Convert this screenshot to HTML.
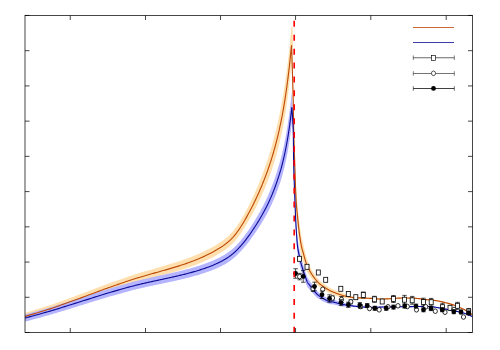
<!DOCTYPE html><html><head><meta charset="utf-8"><style>html,body{margin:0;padding:0;background:#fff;font-family:"Liberation Sans",sans-serif}svg{display:block}</style></head><body><svg width="500" height="350" viewBox="0 0 500 350"><rect width="500" height="350" fill="#fff"/><defs><clipPath id="c"><rect x="25.00" y="15.50" width="447.50" height="317.00"/></clipPath></defs><g clip-path="url(#c)"><path d="M25.00 312.88 L26.21 312.51 L27.72 312.05 L29.49 311.52 L31.48 310.92 L33.64 310.26 L35.94 309.56 L38.32 308.84 L40.74 308.09 L43.16 307.33 L45.54 306.58 L47.84 305.84 L50.00 305.13 L52.08 304.42 L54.17 303.71 L56.25 302.98 L58.33 302.24 L60.42 301.50 L62.50 300.75 L64.58 299.99 L66.67 299.22 L68.75 298.46 L70.83 297.69 L72.92 296.92 L75.00 296.16 L77.13 295.37 L79.34 294.55 L81.60 293.70 L83.89 292.84 L86.18 291.98 L88.44 291.13 L90.65 290.29 L92.78 289.48 L94.80 288.72 L96.70 288.00 L98.44 287.34 L100.00 286.76 L101.33 286.26 L102.42 285.85 L103.32 285.51 L104.07 285.23 L104.72 284.98 L105.31 284.76 L105.88 284.55 L106.48 284.33 L107.15 284.08 L107.93 283.80 L108.86 283.47 L110.00 283.06 L111.35 282.58 L112.87 282.04 L114.53 281.46 L116.30 280.83 L118.13 280.19 L120.00 279.53 L121.87 278.88 L123.70 278.24 L125.47 277.63 L127.13 277.05 L128.65 276.53 L130.00 276.07 L131.18 275.67 L132.25 275.31 L133.20 275.00 L134.07 274.71 L134.88 274.45 L135.62 274.22 L136.34 273.99 L137.04 273.78 L137.73 273.57 L138.45 273.35 L139.20 273.12 L140.00 272.87 L140.83 272.62 L141.67 272.37 L142.50 272.11 L143.33 271.87 L144.17 271.62 L145.00 271.37 L145.83 271.13 L146.67 270.88 L147.50 270.64 L148.33 270.40 L149.17 270.16 L150.00 269.92 L150.83 269.67 L151.67 269.44 L152.50 269.20 L153.33 268.96 L154.17 268.72 L155.00 268.49 L155.83 268.25 L156.67 268.02 L157.50 267.78 L158.33 267.54 L159.17 267.30 L160.00 267.05 L160.83 266.81 L161.67 266.57 L162.50 266.33 L163.33 266.09 L164.17 265.84 L165.00 265.60 L165.83 265.36 L166.67 265.11 L167.50 264.86 L168.33 264.62 L169.17 264.36 L170.00 264.11 L170.83 263.86 L171.67 263.60 L172.50 263.34 L173.33 263.09 L174.17 262.83 L175.00 262.56 L175.83 262.30 L176.67 262.03 L177.50 261.77 L178.33 261.49 L179.17 261.22 L180.00 260.94 L180.83 260.66 L181.67 260.38 L182.50 260.09 L183.33 259.81 L184.17 259.52 L185.00 259.22 L185.83 258.93 L186.67 258.63 L187.50 258.32 L188.33 258.02 L189.17 257.70 L190.00 257.39 L190.83 257.07 L191.67 256.74 L192.50 256.42 L193.33 256.09 L194.17 255.76 L195.00 255.42 L195.83 255.08 L196.67 254.73 L197.50 254.38 L198.33 254.02 L199.17 253.66 L200.00 253.29 L200.85 252.90 L201.72 252.50 L202.62 252.08 L203.52 251.65 L204.42 251.21 L205.31 250.77 L206.19 250.34 L207.04 249.92 L207.85 249.51 L208.62 249.13 L209.34 248.76 L210.00 248.43 L210.59 248.12 L211.12 247.84 L211.60 247.59 L212.04 247.35 L212.44 247.13 L212.81 246.92 L213.17 246.71 L213.52 246.51 L213.87 246.30 L214.22 246.09 L214.60 245.87 L215.00 245.63 L215.42 245.38 L215.83 245.13 L216.25 244.88 L216.67 244.63 L217.08 244.38 L217.50 244.12 L217.92 243.86 L218.33 243.60 L218.75 243.33 L219.17 243.07 L219.58 242.80 L220.00 242.52 L220.42 242.24 L220.83 241.96 L221.25 241.68 L221.67 241.39 L222.08 241.10 L222.50 240.80 L222.92 240.50 L223.33 240.20 L223.75 239.89 L224.17 239.58 L224.58 239.25 L225.00 238.92 L225.42 238.59 L225.83 238.25 L226.25 237.91 L226.67 237.56 L227.08 237.21 L227.50 236.85 L227.92 236.48 L228.33 236.11 L228.75 235.73 L229.17 235.33 L229.58 234.93 L230.00 234.51 L230.42 234.09 L230.83 233.66 L231.25 233.22 L231.67 232.77 L232.08 232.32 L232.50 231.85 L232.92 231.37 L233.33 230.89 L233.75 230.39 L234.17 229.88 L234.58 229.36 L235.00 228.82 L235.42 228.28 L235.83 227.72 L236.25 227.14 L236.67 226.56 L237.08 225.97 L237.50 225.36 L237.92 224.75 L238.33 224.12 L238.75 223.49 L239.17 222.84 L239.58 222.19 L240.00 221.53 L240.42 220.86 L240.83 220.18 L241.25 219.48 L241.67 218.78 L242.08 218.07 L242.50 217.35 L242.92 216.62 L243.33 215.88 L243.75 215.14 L244.17 214.39 L244.58 213.63 L245.00 212.87 L245.42 212.10 L245.84 211.32 L246.26 210.53 L246.68 209.73 L247.10 208.93 L247.52 208.12 L247.94 207.30 L248.36 206.49 L248.77 205.67 L249.19 204.85 L249.59 204.01 L250.00 203.18 L250.40 202.36 L250.79 201.55 L251.18 200.74 L251.57 199.94 L251.95 199.13 L252.34 198.32 L252.72 197.50 L253.10 196.67 L253.49 195.83 L253.88 194.97 L254.28 194.10 L254.68 193.20 L255.09 192.28 L255.50 191.34 L255.92 190.39 L256.34 189.43 L256.76 188.45 L257.19 187.46 L257.61 186.46 L258.04 185.45 L258.47 184.43 L258.90 183.39 L259.32 182.35 L259.75 181.29 L260.18 180.22 L260.61 179.14 L261.04 178.04 L261.47 176.92 L261.90 175.80 L262.33 174.66 L262.77 173.52 L263.19 172.37 L263.62 171.22 L264.04 170.07 L264.46 168.91 L264.87 167.76 L265.28 166.60 L265.69 165.41 L266.10 164.21 L266.52 162.99 L266.92 161.77 L267.33 160.56 L267.72 159.35 L268.11 158.16 L268.49 156.99 L268.85 155.86 L269.21 154.75 L269.54 153.69 L269.85 152.69 L270.15 151.74 L270.43 150.83 L270.69 149.96 L270.94 149.12 L271.19 148.28 L271.43 147.45 L271.67 146.60 L271.91 145.73 L272.16 144.82 L272.43 143.88 L272.70 142.87 L272.99 141.81 L273.29 140.70 L273.59 139.56 L273.90 138.38 L274.21 137.19 L274.53 135.98 L274.84 134.76 L275.15 133.55 L275.46 132.34 L275.75 131.15 L276.04 129.98 L276.32 128.84 L276.59 127.74 L276.84 126.66 L277.09 125.61 L277.33 124.57 L277.57 123.54 L277.80 122.51 L278.03 121.47 L278.26 120.42 L278.49 119.34 L278.73 118.24 L278.96 117.10 L279.21 115.91 L279.46 114.68 L279.72 113.40 L279.98 112.10 L280.24 110.76 L280.51 109.40 L280.77 108.03 L281.04 106.64 L281.30 105.25 L281.56 103.86 L281.81 102.48 L282.06 101.10 L282.30 99.75 L282.53 98.41 L282.76 97.08 L282.98 95.76 L283.20 94.44 L283.42 93.12 L283.63 91.80 L283.84 90.47 L284.05 89.13 L284.26 87.77 L284.46 86.40 L284.67 85.00 L284.88 83.58 L285.09 82.13 L285.30 80.67 L285.51 79.18 L285.72 77.68 L285.92 76.16 L286.13 74.67 L286.33 73.19 L286.54 71.71 L286.74 70.23 L286.94 68.73 L287.14 67.24 L287.33 65.74 L287.52 64.24 L287.71 62.73 L287.90 61.22 L288.08 59.70 L288.27 58.18 L288.45 56.65 L288.63 55.11 L288.81 53.56 L288.98 52.00 L289.16 50.42 L289.34 48.84 L289.51 47.24 L289.69 45.56 L289.88 43.76 L290.07 41.87 L290.26 39.93 L290.45 37.98 L290.64 36.06 L290.82 34.21 L290.99 32.45 L291.15 30.84 L291.29 29.40 L291.40 28.17 L291.50 27.20 L291.60 28.70 L291.63 29.65 L291.66 30.76 L291.70 32.04 L291.74 33.46 L291.79 35.03 L291.84 36.74 L291.89 38.57 L291.95 40.53 L292.01 42.59 L292.07 44.77 L292.13 47.04 L292.20 49.40 L292.27 51.93 L292.35 54.69 L292.43 57.64 L292.52 60.75 L292.61 63.96 L292.71 67.26 L292.80 70.58 L292.89 73.91 L292.98 77.19 L293.06 80.32 L293.13 83.30 L293.20 86.13 L293.26 88.83 L293.31 91.44 L293.35 93.97 L293.38 96.44 L293.41 98.88 L293.44 101.30 L293.47 103.72 L293.51 106.15 L293.54 108.63 L293.59 111.16 L293.64 113.77 L293.70 116.47 L293.77 119.25 L293.85 122.11 L293.93 125.02 L294.01 128.08 L294.11 131.24 L294.20 134.43 L294.30 137.64 L294.40 140.87 L294.50 144.10 L294.60 147.32 L294.70 150.52 L294.80 153.69 L294.90 156.90 L295.00 160.19 L295.10 163.54 L295.20 166.92 L295.30 170.30 L295.41 173.65 L295.51 176.94 L295.62 180.15 L295.74 183.24 L295.85 186.20 L295.97 188.98 L296.10 188.05 L296.23 190.34 L296.38 192.49 L296.53 194.52 L296.68 196.43 L296.84 198.24 L297.00 199.96 L297.16 201.60 L297.32 203.17 L297.47 204.68 L297.62 206.15 L297.77 207.58 L297.90 208.99 L298.02 210.33 L298.14 211.57 L298.24 212.71 L298.34 213.76 L298.44 214.74 L298.54 215.67 L298.63 216.59 L298.73 217.49 L298.84 218.40 L298.95 219.33 L299.07 220.31 L299.20 221.34 L299.34 222.43 L299.50 223.56 L299.66 224.73 L299.82 225.92 L299.99 227.11 L300.17 228.30 L300.35 229.47 L300.52 230.62 L300.70 231.72 L300.87 232.76 L301.04 233.82 L301.20 234.81 L301.35 235.70 L301.49 236.47 L301.62 237.17 L301.75 237.80 L301.88 238.38 L302.01 238.94 L302.14 239.51 L302.28 240.10 L302.44 240.72 L302.60 241.42 L302.79 242.20 L303.00 243.09 L303.23 244.08 L303.47 245.17 L303.73 246.32 L304.00 247.54 L304.29 248.79 L304.58 250.08 L304.88 251.38 L305.20 252.64 L305.51 253.85 L305.84 255.04 L306.17 256.17 L306.50 257.25 L306.84 258.28 L307.19 259.29 L307.54 260.28 L307.91 261.25 L308.28 262.20 L308.66 263.14 L309.04 264.06 L309.43 264.97 L309.82 265.87 L310.21 266.76 L310.60 267.63 L311.00 268.50 L311.40 269.36 L311.81 270.21 L312.23 270.90 L312.65 271.57 L313.07 272.22 L313.50 272.87 L313.93 273.50 L314.35 274.11 L314.77 274.70 L315.19 275.27 L315.60 275.83 L316.00 276.36 L316.38 276.86 L316.74 277.33 L317.09 277.77 L317.43 278.18 L317.76 278.58 L318.09 278.97 L318.44 279.34 L318.80 279.72 L319.18 280.11 L319.58 280.50 L320.02 280.92 L320.50 281.32 L321.03 281.75 L321.61 282.20 L322.22 282.67 L322.87 283.14 L323.54 283.62 L324.22 284.10 L324.90 284.57 L325.57 285.03 L326.23 285.47 L326.86 285.89 L327.45 286.28 L328.00 286.63 L328.49 286.95 L328.92 287.22 L329.31 287.47 L329.67 287.68 L330.01 287.89 L330.34 288.07 L330.69 288.26 L331.06 288.45 L331.46 288.64 L331.91 288.85 L332.42 289.07 L333.00 289.32 L333.66 289.59 L334.38 289.89 L335.15 290.20 L335.96 290.53 L336.81 290.86 L337.69 291.19 L338.58 291.53 L339.48 291.86 L340.38 292.17 L341.28 292.48 L342.15 292.78 L343.00 293.15 L343.83 293.50 L344.67 293.84 L345.50 294.17 L346.33 294.48 L347.17 294.79 L348.00 295.09 L348.83 295.37 L349.67 295.65 L350.50 295.92 L351.33 296.17 L352.17 296.39 L353.00 296.51 L353.83 296.61 L354.67 296.69 L355.50 296.76 L356.33 296.81 L357.17 296.86 L358.00 296.89 L358.83 296.92 L359.67 296.95 L360.50 296.98 L361.33 297.01 L362.17 297.05 L363.00 297.09 L363.83 297.14 L364.67 297.19 L365.50 297.24 L366.33 297.29 L367.17 297.33 L368.00 297.38 L368.83 297.43 L369.67 297.48 L370.50 297.53 L371.33 297.58 L372.17 297.63 L373.00 297.68 L373.80 297.73 L374.55 297.79 L375.27 297.85 L375.96 297.92 L376.66 297.99 L377.38 298.06 L378.12 298.12 L378.93 298.17 L379.80 298.21 L380.75 298.24 L381.82 298.26 L383.00 298.26 L384.33 298.23 L385.81 298.18 L387.41 298.12 L389.11 298.03 L390.88 297.94 L392.69 297.84 L394.51 297.74 L396.33 297.65 L398.12 297.56 L399.84 297.50 L401.48 297.44 L403.00 297.40 L404.45 297.39 L405.88 297.39 L407.29 297.41 L408.67 297.44 L410.01 297.48 L411.31 297.52 L412.57 297.58 L413.78 297.64 L414.93 297.70 L416.02 297.77 L417.05 297.84 L418.00 297.90 L418.85 297.97 L419.59 298.04 L420.24 298.11 L420.81 298.20 L421.33 298.28 L421.81 298.37 L422.28 298.46 L422.74 298.55 L423.23 298.64 L423.75 298.73 L424.34 298.82 L425.00 298.90 L425.73 298.98 L426.49 299.06 L427.29 299.13 L428.11 299.20 L428.95 299.27 L429.81 299.34 L430.68 299.41 L431.56 299.49 L432.43 299.58 L433.30 299.68 L434.16 299.78 L435.00 299.90 L435.83 300.03 L436.67 300.16 L437.50 300.31 L438.33 300.46 L439.17 300.61 L440.00 300.77 L440.83 300.95 L441.67 301.12 L442.50 301.31 L443.33 301.50 L444.17 301.70 L445.00 301.90 L445.83 302.11 L446.67 302.32 L447.50 302.54 L448.33 302.77 L449.17 303.00 L450.00 303.24 L450.83 303.49 L451.67 303.75 L452.50 304.02 L453.33 304.30 L454.17 304.59 L455.00 304.90 L455.84 305.22 L456.70 305.56 L457.56 305.91 L458.43 306.28 L459.29 306.65 L460.16 307.04 L461.01 307.43 L461.85 307.82 L462.68 308.22 L463.48 308.62 L464.25 309.01 L465.00 309.40 L465.74 309.80 L466.48 310.24 L467.23 310.69 L467.96 311.16 L468.68 311.62 L469.38 312.08 L470.03 312.53 L470.65 312.94 L471.21 313.33 L471.71 313.67 L472.15 313.97 L472.50 314.20 L472.50 315.40 L472.15 315.17 L471.71 314.87 L471.21 314.53 L470.65 314.14 L470.03 313.73 L469.38 313.28 L468.68 312.82 L467.96 312.36 L467.23 311.89 L466.48 311.44 L465.74 311.00 L465.00 310.60 L464.25 310.21 L463.48 309.82 L462.68 309.42 L461.85 309.02 L461.01 308.63 L460.16 308.24 L459.29 307.85 L458.43 307.48 L457.56 307.11 L456.70 306.76 L455.84 306.42 L455.00 306.10 L454.17 305.79 L453.33 305.50 L452.50 305.22 L451.67 304.95 L450.83 304.69 L450.00 304.44 L449.17 304.20 L448.33 303.97 L447.50 303.74 L446.67 303.52 L445.83 303.31 L445.00 303.10 L444.17 302.90 L443.33 302.70 L442.50 302.51 L441.67 302.32 L440.83 302.15 L440.00 301.98 L439.17 301.81 L438.33 301.66 L437.50 301.51 L436.67 301.36 L435.83 301.23 L435.00 301.10 L434.16 300.98 L433.30 300.88 L432.43 300.78 L431.56 300.69 L430.68 300.61 L429.81 300.54 L428.95 300.47 L428.11 300.40 L427.29 300.33 L426.49 300.26 L425.73 300.18 L425.00 300.10 L424.34 300.02 L423.75 299.93 L423.23 299.84 L422.74 299.75 L422.28 299.66 L421.81 299.57 L421.33 299.48 L420.81 299.40 L420.24 299.31 L419.59 299.24 L418.85 299.17 L418.00 299.10 L417.05 299.04 L416.02 298.97 L414.93 298.90 L413.78 298.84 L412.57 298.78 L411.31 298.73 L410.01 298.68 L408.67 298.64 L407.29 298.61 L405.88 298.59 L404.45 298.59 L403.00 298.60 L401.48 298.64 L399.84 298.70 L398.12 298.80 L396.33 298.91 L394.51 299.03 L392.69 299.16 L390.88 299.29 L389.11 299.41 L387.41 299.53 L385.81 299.62 L384.33 299.69 L383.00 299.74 L381.82 299.76 L380.75 299.76 L379.80 299.75 L378.93 299.72 L378.12 299.68 L377.38 299.63 L376.66 299.58 L375.96 299.52 L375.27 299.47 L374.55 299.41 L373.80 299.36 L373.00 299.32 L372.17 299.29 L371.33 299.26 L370.50 299.22 L369.67 299.19 L368.83 299.15 L368.00 299.12 L367.17 299.08 L366.33 299.05 L365.50 299.01 L364.67 298.98 L363.83 298.94 L363.00 298.91 L362.17 298.88 L361.33 298.86 L360.50 298.84 L359.67 298.82 L358.83 298.81 L358.00 298.79 L357.17 298.77 L356.33 298.74 L355.50 298.70 L354.67 298.65 L353.83 298.58 L353.00 298.49 L352.17 298.39 L351.33 298.37 L350.50 298.37 L349.67 298.35 L348.83 298.32 L348.00 298.29 L347.17 298.24 L346.33 298.18 L345.50 298.12 L344.67 298.04 L343.83 297.95 L343.00 297.85 L342.15 297.74 L341.28 297.51 L340.38 297.24 L339.48 296.96 L338.58 296.67 L337.69 296.37 L336.81 296.07 L335.96 295.77 L335.15 295.48 L334.38 295.20 L333.66 294.93 L333.00 294.68 L332.42 294.46 L331.91 294.26 L331.46 294.09 L331.06 293.92 L330.69 293.77 L330.34 293.61 L330.01 293.45 L329.67 293.28 L329.31 293.09 L328.92 292.88 L328.49 292.64 L328.00 292.37 L327.45 292.06 L326.86 291.72 L326.23 291.35 L325.57 290.97 L324.90 290.56 L324.22 290.15 L323.54 289.73 L322.87 289.30 L322.22 288.88 L321.61 288.47 L321.03 288.06 L320.50 287.68 L320.02 287.31 L319.58 287.00 L319.18 286.69 L318.80 286.39 L318.44 286.09 L318.09 285.78 L317.76 285.47 L317.43 285.15 L317.09 284.81 L316.74 284.45 L316.38 284.06 L316.00 283.64 L315.60 283.19 L315.19 282.73 L314.77 282.25 L314.35 281.75 L313.93 281.23 L313.50 280.69 L313.07 280.15 L312.65 279.58 L312.23 279.00 L311.81 278.41 L311.40 277.96 L311.00 277.50 L310.60 277.03 L310.21 276.55 L309.82 276.05 L309.43 275.55 L309.04 275.02 L308.66 274.48 L308.28 273.92 L307.91 273.34 L307.54 272.74 L307.19 272.10 L306.84 271.44 L306.50 270.75 L306.17 270.01 L305.84 269.20 L305.51 268.34 L305.20 267.44 L304.88 266.54 L304.58 265.67 L304.29 264.80 L304.00 263.95 L303.73 263.12 L303.47 262.33 L303.23 261.59 L303.00 260.91 L302.79 260.32 L302.60 259.81 L302.44 259.35 L302.28 258.94 L302.14 258.56 L302.01 258.18 L301.88 257.80 L301.75 257.39 L301.62 256.94 L301.49 256.44 L301.35 255.86 L301.20 255.19 L301.04 254.43 L300.87 253.57 L300.70 252.58 L300.52 251.53 L300.35 250.44 L300.17 249.32 L299.99 248.19 L299.82 247.05 L299.66 245.91 L299.50 244.79 L299.34 243.71 L299.20 242.66 L299.07 241.67 L298.95 240.73 L298.84 239.83 L298.73 238.96 L298.63 238.08 L298.54 237.20 L298.44 236.29 L298.34 235.35 L298.24 234.37 L298.14 233.34 L298.02 232.22 L297.90 231.01 L297.77 229.74 L297.62 228.46 L297.47 227.15 L297.32 225.79 L297.16 224.39 L297.00 222.92 L296.84 221.36 L296.68 219.72 L296.53 217.97 L296.38 216.10 L296.23 214.10 L296.10 211.95 L295.97 206.23 L295.85 203.87 L295.74 201.37 L295.62 198.74 L295.51 196.02 L295.41 193.23 L295.30 190.39 L295.20 187.52 L295.10 184.66 L295.00 181.82 L294.90 179.03 L294.80 176.31 L294.70 173.62 L294.60 170.90 L294.50 168.17 L294.40 165.43 L294.30 162.69 L294.20 159.94 L294.11 157.22 L294.01 154.51 L293.93 151.78 L293.85 148.98 L293.77 146.23 L293.70 143.53 L293.64 140.91 L293.59 138.38 L293.54 135.90 L293.51 133.48 L293.47 131.08 L293.44 128.70 L293.41 126.33 L293.38 123.93 L293.35 121.50 L293.31 119.03 L293.26 116.49 L293.20 113.87 L293.13 111.12 L293.06 108.24 L292.98 105.29 L292.89 102.35 L292.80 99.39 L292.71 96.43 L292.61 93.51 L292.52 90.66 L292.43 87.91 L292.35 85.30 L292.27 82.85 L292.20 80.60 L292.13 78.50 L292.07 76.49 L292.01 74.56 L291.95 72.73 L291.89 71.01 L291.84 69.39 L291.79 67.88 L291.74 66.50 L291.70 65.24 L291.66 64.12 L291.63 63.14 L291.60 62.30 L291.50 63.80 L291.40 64.72 L291.29 65.88 L291.15 67.24 L290.99 68.77 L290.82 70.43 L290.64 72.19 L290.45 74.00 L290.26 75.85 L290.07 77.68 L289.88 79.47 L289.69 81.17 L289.51 82.76 L289.34 84.27 L289.16 85.77 L288.98 87.26 L288.81 88.74 L288.63 90.21 L288.45 91.66 L288.27 93.11 L288.08 94.55 L287.90 95.99 L287.71 97.42 L287.52 98.84 L287.33 100.26 L287.14 101.68 L286.94 103.10 L286.74 104.51 L286.54 105.92 L286.33 107.32 L286.13 108.71 L285.92 110.06 L285.72 111.36 L285.51 112.65 L285.30 113.92 L285.09 115.18 L284.88 116.42 L284.67 117.64 L284.46 118.83 L284.26 120.01 L284.05 121.17 L283.84 122.31 L283.63 123.45 L283.42 124.58 L283.20 125.71 L282.98 126.84 L282.76 127.97 L282.53 129.11 L282.30 130.25 L282.06 131.42 L281.81 132.59 L281.56 133.78 L281.30 134.97 L281.04 136.16 L280.77 137.35 L280.51 138.52 L280.24 139.68 L279.98 140.83 L279.72 141.94 L279.46 143.03 L279.21 144.09 L278.96 145.11 L278.73 146.08 L278.49 147.03 L278.26 147.95 L278.03 148.85 L277.80 149.74 L277.57 150.62 L277.33 151.50 L277.09 152.39 L276.84 153.29 L276.59 154.21 L276.32 155.16 L276.04 156.14 L275.75 157.14 L275.46 158.16 L275.15 159.19 L274.84 160.23 L274.53 161.27 L274.21 162.30 L273.90 163.32 L273.59 164.32 L273.29 165.29 L272.99 166.23 L272.70 167.13 L272.43 167.98 L272.16 168.79 L271.91 169.55 L271.67 170.29 L271.43 171.01 L271.19 171.72 L270.94 172.43 L270.69 173.15 L270.43 173.88 L270.15 174.65 L269.85 175.45 L269.54 176.31 L269.21 177.21 L268.85 178.14 L268.49 179.11 L268.11 180.10 L267.72 181.11 L267.33 182.13 L266.92 183.16 L266.52 184.19 L266.10 185.22 L265.69 186.24 L265.28 187.25 L264.87 188.24 L264.46 189.21 L264.04 190.19 L263.62 191.17 L263.19 192.15 L262.77 193.12 L262.33 194.09 L261.90 195.05 L261.47 196.00 L261.04 196.95 L260.61 197.88 L260.18 198.80 L259.75 199.71 L259.32 200.60 L258.90 201.49 L258.47 202.37 L258.04 203.24 L257.61 204.10 L257.19 204.94 L256.76 205.78 L256.34 206.61 L255.92 207.43 L255.50 208.23 L255.09 209.02 L254.68 209.80 L254.28 210.57 L253.88 211.31 L253.49 212.04 L253.10 212.75 L252.72 213.46 L252.34 214.15 L251.95 214.84 L251.57 215.52 L251.18 216.20 L250.79 216.89 L250.40 217.58 L250.00 218.28 L249.59 218.98 L249.19 219.68 L248.77 220.40 L248.36 221.13 L247.94 221.85 L247.52 222.58 L247.10 223.29 L246.68 224.01 L246.26 224.72 L245.84 225.42 L245.42 226.11 L245.00 226.79 L244.58 227.46 L244.17 228.13 L243.75 228.80 L243.33 229.46 L242.92 230.11 L242.50 230.76 L242.08 231.40 L241.67 232.03 L241.25 232.66 L240.83 233.27 L240.42 233.88 L240.00 234.47 L239.58 235.06 L239.17 235.63 L238.75 236.21 L238.33 236.77 L237.92 237.32 L237.50 237.87 L237.08 238.40 L236.67 238.93 L236.25 239.45 L235.83 239.96 L235.42 240.45 L235.00 240.94 L234.58 241.41 L234.17 241.87 L233.75 242.33 L233.33 242.77 L232.92 243.20 L232.50 243.62 L232.08 244.03 L231.67 244.44 L231.25 244.84 L230.83 245.23 L230.42 245.61 L230.00 245.99 L229.58 246.35 L229.17 246.71 L228.75 247.06 L228.33 247.40 L227.92 247.73 L227.50 248.06 L227.08 248.37 L226.67 248.69 L226.25 248.99 L225.83 249.30 L225.42 249.60 L225.00 249.90 L224.58 250.19 L224.17 250.47 L223.75 250.75 L223.33 251.03 L222.92 251.30 L222.50 251.56 L222.08 251.82 L221.67 252.08 L221.25 252.34 L220.83 252.59 L220.42 252.84 L220.00 253.10 L219.58 253.35 L219.17 253.61 L218.75 253.86 L218.33 254.10 L217.92 254.35 L217.50 254.59 L217.08 254.83 L216.67 255.06 L216.25 255.30 L215.83 255.53 L215.42 255.76 L215.00 255.99 L214.60 256.21 L214.22 256.42 L213.87 256.62 L213.52 256.81 L213.17 257.00 L212.81 257.19 L212.44 257.39 L212.04 257.59 L211.60 257.81 L211.12 258.05 L210.59 258.31 L210.00 258.59 L209.34 258.91 L208.62 259.24 L207.85 259.61 L207.04 259.98 L206.19 260.38 L205.31 260.78 L204.42 261.18 L203.52 261.59 L202.62 261.99 L201.72 262.38 L200.85 262.76 L200.00 263.11 L199.17 263.46 L198.33 263.80 L197.50 264.13 L196.67 264.46 L195.83 264.78 L195.00 265.10 L194.17 265.41 L193.33 265.72 L192.50 266.03 L191.67 266.33 L190.83 266.63 L190.00 266.93 L189.17 267.23 L188.33 267.52 L187.50 267.80 L186.67 268.09 L185.83 268.36 L185.00 268.64 L184.17 268.91 L183.33 269.18 L182.50 269.45 L181.67 269.71 L180.83 269.98 L180.00 270.24 L179.17 270.50 L178.33 270.75 L177.50 271.01 L176.67 271.26 L175.83 271.50 L175.00 271.75 L174.17 271.99 L173.33 272.23 L172.50 272.47 L171.67 272.71 L170.83 272.95 L170.00 273.19 L169.17 273.42 L168.33 273.66 L167.50 273.89 L166.67 274.12 L165.83 274.35 L165.00 274.57 L164.17 274.80 L163.33 275.03 L162.50 275.25 L161.67 275.48 L160.83 275.70 L160.00 275.93 L159.17 276.15 L158.33 276.38 L157.50 276.60 L156.67 276.82 L155.83 277.05 L155.00 277.27 L154.17 277.50 L153.33 277.73 L152.50 277.95 L151.67 278.18 L150.83 278.41 L150.00 278.64 L149.17 278.88 L148.33 279.11 L147.50 279.34 L146.67 279.58 L145.83 279.81 L145.00 280.04 L144.17 280.28 L143.33 280.52 L142.50 280.76 L141.67 281.00 L140.83 281.24 L140.00 281.49 L139.20 281.72 L138.45 281.94 L137.73 282.15 L137.04 282.36 L136.34 282.56 L135.62 282.78 L134.88 283.01 L134.07 283.25 L133.20 283.52 L132.25 283.83 L131.18 284.17 L130.00 284.55 L128.65 285.00 L127.13 285.50 L125.47 286.05 L123.70 286.64 L121.87 287.26 L120.00 287.88 L118.13 288.51 L116.30 289.13 L114.53 289.73 L112.87 290.30 L111.35 290.82 L110.00 291.28 L108.86 291.67 L107.93 291.99 L107.15 292.26 L106.48 292.50 L105.88 292.71 L105.31 292.91 L104.72 293.13 L104.07 293.36 L103.32 293.64 L102.42 293.97 L101.33 294.36 L100.00 294.84 L98.44 295.41 L96.70 296.04 L94.80 296.74 L92.78 297.48 L90.65 298.26 L88.44 299.06 L86.18 299.89 L83.89 300.72 L81.60 301.55 L79.34 302.37 L77.13 303.16 L75.00 303.92 L72.92 304.66 L70.83 305.41 L68.75 306.15 L66.67 306.89 L64.58 307.62 L62.50 308.36 L60.42 309.08 L58.33 309.81 L56.25 310.52 L54.17 311.22 L52.08 311.91 L50.00 312.59 L47.84 313.28 L45.54 313.99 L43.16 314.72 L40.74 315.45 L38.32 316.17 L35.94 316.88 L33.64 317.55 L31.48 318.18 L29.49 318.76 L27.72 319.28 L26.21 319.72 L25.00 320.08Z" fill="#ffdfad" stroke="none"/><path d="M291.3 27L292.5 27L293.0 47L290.2 47Z" fill="#ffdfad" stroke="none"/><path d="M25.00 314.49 L26.21 314.15 L27.72 313.74 L29.49 313.25 L31.48 312.70 L33.64 312.10 L35.94 311.46 L38.32 310.79 L40.74 310.11 L43.16 309.42 L45.54 308.74 L47.84 308.07 L50.00 307.43 L52.08 306.80 L54.17 306.16 L56.25 305.52 L58.33 304.86 L60.42 304.21 L62.50 303.54 L64.58 302.88 L66.67 302.21 L68.75 301.54 L70.83 300.88 L72.92 300.21 L75.00 299.54 L77.13 298.86 L79.34 298.16 L81.60 297.43 L83.89 296.70 L86.18 295.96 L88.44 295.23 L90.65 294.52 L92.78 293.83 L94.80 293.18 L96.70 292.57 L98.44 292.01 L100.00 291.52 L101.33 291.10 L102.42 290.75 L103.32 290.46 L104.07 290.22 L104.72 290.01 L105.31 289.83 L105.88 289.65 L106.48 289.47 L107.15 289.27 L107.93 289.04 L108.86 288.76 L110.00 288.43 L111.35 288.03 L112.87 287.58 L114.53 287.10 L116.30 286.59 L118.13 286.06 L120.00 285.52 L121.87 284.98 L123.70 284.46 L125.47 283.95 L127.13 283.48 L128.65 283.05 L130.00 282.68 L131.18 282.35 L132.25 282.06 L133.20 281.80 L134.07 281.57 L134.88 281.36 L135.62 281.17 L136.34 280.99 L137.04 280.82 L137.73 280.65 L138.45 280.47 L139.20 280.29 L140.00 280.10 L140.83 279.89 L141.67 279.69 L142.50 279.49 L143.33 279.29 L144.17 279.10 L145.00 278.90 L145.83 278.71 L146.67 278.52 L147.50 278.33 L148.33 278.14 L149.17 277.95 L150.00 277.76 L150.83 277.57 L151.67 277.38 L152.50 277.20 L153.33 277.01 L154.17 276.83 L155.00 276.64 L155.83 276.46 L156.67 276.28 L157.50 276.10 L158.33 275.91 L159.17 275.73 L160.00 275.55 L160.83 275.36 L161.67 275.18 L162.50 275.00 L163.33 274.82 L164.17 274.63 L165.00 274.45 L165.83 274.27 L166.67 274.09 L167.50 273.90 L168.33 273.72 L169.17 273.53 L170.00 273.34 L170.83 273.15 L171.67 272.97 L172.50 272.78 L173.33 272.59 L174.17 272.40 L175.00 272.20 L175.83 272.01 L176.67 271.82 L177.50 271.62 L178.33 271.42 L179.17 271.22 L180.00 271.02 L180.83 270.81 L181.67 270.61 L182.50 270.40 L183.33 270.19 L184.17 269.98 L185.00 269.76 L185.83 269.55 L186.67 269.33 L187.50 269.11 L188.33 268.88 L189.17 268.66 L190.00 268.43 L190.83 268.19 L191.67 267.96 L192.50 267.72 L193.33 267.47 L194.17 267.23 L195.00 266.98 L195.83 266.73 L196.67 266.47 L197.50 266.21 L198.33 265.95 L199.17 265.68 L200.00 265.41 L200.85 265.12 L201.72 264.82 L202.62 264.51 L203.52 264.20 L204.42 263.88 L205.31 263.55 L206.19 263.24 L207.04 262.92 L207.85 262.62 L208.62 262.33 L209.34 262.06 L210.00 261.81 L210.59 261.58 L211.12 261.37 L211.60 261.18 L212.04 261.00 L212.44 260.83 L212.81 260.67 L213.17 260.51 L213.52 260.35 L213.87 260.19 L214.22 260.02 L214.60 259.85 L215.00 259.67 L215.42 259.48 L215.83 259.28 L216.25 259.09 L216.67 258.89 L217.08 258.69 L217.50 258.49 L217.92 258.29 L218.33 258.08 L218.75 257.88 L219.17 257.66 L219.58 257.45 L220.00 257.23 L220.42 257.01 L220.83 256.79 L221.25 256.57 L221.67 256.34 L222.08 256.11 L222.50 255.88 L222.92 255.64 L223.33 255.41 L223.75 255.16 L224.17 254.91 L224.58 254.66 L225.00 254.40 L225.42 254.14 L225.83 253.88 L226.25 253.61 L226.67 253.34 L227.08 253.06 L227.50 252.78 L227.92 252.50 L228.33 252.21 L228.75 251.91 L229.17 251.61 L229.58 251.30 L230.00 250.99 L230.42 250.66 L230.83 250.33 L231.25 250.00 L231.67 249.66 L232.08 249.32 L232.50 248.97 L232.92 248.61 L233.33 248.25 L233.75 247.88 L234.17 247.50 L234.58 247.11 L235.00 246.72 L235.42 246.31 L235.83 245.90 L236.25 245.49 L236.67 245.06 L237.08 244.63 L237.50 244.19 L237.92 243.74 L238.33 243.29 L238.75 242.83 L239.17 242.37 L239.58 241.89 L240.00 241.41 L240.42 240.91 L240.84 240.40 L241.26 239.89 L241.69 239.36 L242.11 238.83 L242.53 238.30 L242.95 237.76 L243.37 237.22 L243.79 236.68 L244.20 236.14 L244.60 235.61 L245.00 235.08 L245.39 234.56 L245.77 234.04 L246.14 233.54 L246.51 233.04 L246.87 232.54 L247.23 232.03 L247.60 231.52 L247.96 231.00 L248.33 230.47 L248.71 229.92 L249.10 229.34 L249.50 228.75 L249.91 228.13 L250.33 227.49 L250.76 226.83 L251.20 226.16 L251.64 225.47 L252.08 224.78 L252.53 224.07 L252.97 223.36 L253.42 222.64 L253.87 221.91 L254.32 221.19 L254.76 220.47 L255.20 219.75 L255.65 219.02 L256.09 218.28 L256.54 217.54 L256.98 216.79 L257.43 216.04 L257.88 215.29 L258.32 214.53 L258.76 213.77 L259.20 213.00 L259.64 212.23 L260.07 211.46 L260.50 210.69 L260.93 209.91 L261.35 209.12 L261.77 208.34 L262.19 207.55 L262.61 206.76 L263.03 205.96 L263.44 205.16 L263.85 204.34 L264.26 203.51 L264.67 202.69 L265.07 201.85 L265.47 201.03 L265.86 200.21 L266.24 199.40 L266.62 198.59 L267.00 197.77 L267.38 196.95 L267.76 196.11 L268.14 195.26 L268.52 194.38 L268.91 193.48 L269.31 192.54 L269.71 191.57 L270.12 190.57 L270.54 189.54 L270.97 188.49 L271.40 187.42 L271.83 186.33 L272.27 185.21 L272.71 184.07 L273.15 182.91 L273.59 181.73 L274.03 180.52 L274.47 179.29 L274.90 178.04 L275.34 176.73 L275.80 175.33 L276.27 173.86 L276.75 172.35 L277.22 170.82 L277.69 169.28 L278.15 167.77 L278.59 166.30 L279.01 164.89 L279.40 163.57 L279.76 162.35 L280.08 161.27 L280.35 160.33 L280.59 159.51 L280.78 158.80 L280.95 158.18 L281.10 157.62 L281.23 157.11 L281.35 156.61 L281.47 156.12 L281.59 155.60 L281.72 155.04 L281.86 154.41 L282.03 153.69 L282.21 152.91 L282.40 152.11 L282.60 151.29 L282.79 150.45 L282.99 149.58 L283.20 148.69 L283.40 147.77 L283.61 146.84 L283.81 145.88 L284.02 144.90 L284.23 143.90 L284.44 142.87 L284.65 141.81 L284.87 140.70 L285.09 139.56 L285.31 138.38 L285.53 137.19 L285.76 135.98 L285.98 134.76 L286.20 133.55 L286.42 132.34 L286.62 131.15 L286.83 129.98 L287.02 128.84 L287.21 127.72 L287.39 126.60 L287.56 125.48 L287.74 124.37 L287.91 123.27 L288.07 122.17 L288.23 121.09 L288.38 120.02 L288.54 118.97 L288.68 117.93 L288.83 116.91 L288.97 115.91 L289.11 114.94 L289.23 114.02 L289.36 113.13 L289.47 112.26 L289.59 111.40 L289.70 110.56 L289.81 109.71 L289.91 108.85 L290.02 107.97 L290.13 107.06 L290.24 106.12 L290.36 105.13 L290.48 104.06 L290.61 102.89 L290.75 101.64 L290.89 100.34 L291.03 99.03 L291.17 97.73 L291.30 96.46 L291.42 95.26 L291.54 94.15 L291.64 93.16 L291.73 92.32 L291.80 91.66 L291.90 95.30 L291.97 96.48 L292.05 97.90 L292.15 99.55 L292.27 101.40 L292.39 103.43 L292.52 105.60 L292.65 107.90 L292.78 110.30 L292.90 112.77 L293.01 115.28 L293.12 117.69 L293.20 120.13 L293.27 122.66 L293.32 125.32 L293.36 128.11 L293.40 131.01 L293.43 133.98 L293.46 137.02 L293.48 140.11 L293.51 143.21 L293.54 146.32 L293.59 149.41 L293.64 152.47 L293.70 155.47 L293.78 158.48 L293.86 161.58 L293.96 164.74 L294.06 167.93 L294.17 171.12 L294.28 174.29 L294.39 177.41 L294.50 180.45 L294.61 183.38 L294.72 186.20 L294.81 188.98 L294.90 191.57 L294.98 193.96 L295.06 196.18 L295.13 198.25 L295.19 200.19 L295.26 202.02 L295.32 203.75 L295.38 205.40 L295.44 206.96 L295.50 208.50 L295.57 210.01 L295.63 211.52 L295.70 213.05 L295.77 214.58 L295.85 216.07 L295.92 217.52 L296.00 218.94 L296.07 218.86 L296.15 220.12 L296.23 221.36 L296.30 222.56 L296.38 223.72 L296.45 224.85 L296.53 225.94 L296.60 227.00 L296.67 228.02 L296.74 229.01 L296.81 229.97 L296.88 230.89 L296.95 231.77 L297.01 232.62 L297.08 233.44 L297.14 234.22 L297.21 234.97 L297.27 235.68 L297.34 236.36 L297.40 237.00 L297.46 237.58 L297.51 238.08 L297.55 238.51 L297.60 238.89 L297.64 239.24 L297.68 239.56 L297.73 239.89 L297.78 240.22 L297.84 240.59 L297.92 240.99 L298.00 241.46 L298.10 242.05 L298.22 242.72 L298.35 243.47 L298.49 244.26 L298.65 245.10 L298.81 245.97 L298.98 246.87 L299.15 247.77 L299.33 248.66 L299.50 249.55 L299.68 250.41 L299.84 251.23 L300.00 252.00 L300.14 252.70 L300.27 253.34 L300.39 253.92 L300.50 254.47 L300.61 255.01 L300.73 255.55 L300.85 256.11 L300.99 256.72 L301.15 257.35 L301.33 258.06 L301.55 258.86 L301.80 259.76 L302.10 260.81 L302.44 262.00 L302.81 263.31 L303.21 264.70 L303.64 266.15 L304.08 267.62 L304.52 269.09 L304.95 270.53 L305.38 271.83 L305.78 273.04 L306.16 274.12 L306.50 275.06 L306.79 275.82 L307.03 276.45 L307.24 276.95 L307.42 277.36 L307.59 277.71 L307.76 278.02 L307.95 278.32 L308.16 278.64 L308.40 278.99 L308.70 279.42 L309.06 279.93 L309.50 280.57 L310.01 281.33 L310.58 282.18 L311.20 283.11 L311.87 284.09 L312.58 285.09 L313.31 286.10 L314.07 287.12 L314.85 288.13 L315.64 289.12 L316.43 290.06 L317.22 290.94 L318.00 291.75 L318.80 292.51 L319.64 293.24 L320.51 293.92 L321.41 294.55 L322.31 295.15 L323.22 295.72 L324.11 296.26 L324.98 296.77 L325.82 297.24 L326.61 297.67 L327.34 298.05 L328.00 298.40 L328.58 298.68 L329.06 298.89 L329.48 299.04 L329.85 299.14 L330.18 299.20 L330.50 299.24 L330.82 299.27 L331.15 299.30 L331.52 299.34 L331.94 299.40 L332.42 299.50 L333.00 299.64 L333.66 299.83 L334.38 300.04 L335.15 300.27 L335.96 300.52 L336.81 300.78 L337.69 301.05 L338.58 301.32 L339.48 301.58 L340.38 301.85 L341.28 302.09 L342.15 302.34 L343.00 302.60 L343.83 302.84 L344.67 303.08 L345.50 303.31 L346.33 303.53 L347.17 303.74 L348.00 303.94 L348.83 304.14 L349.67 304.34 L350.50 304.53 L351.33 304.72 L352.17 304.90 L353.00 305.01 L353.83 305.12 L354.67 305.22 L355.50 305.33 L356.33 305.43 L357.17 305.52 L358.00 305.61 L358.83 305.70 L359.67 305.79 L360.50 305.87 L361.33 305.95 L362.17 306.02 L363.00 306.09 L363.83 306.16 L364.67 306.23 L365.50 306.30 L366.33 306.36 L367.17 306.42 L368.00 306.48 L368.83 306.53 L369.67 306.57 L370.50 306.61 L371.33 306.64 L372.17 306.66 L373.00 306.68 L373.80 306.67 L374.55 306.66 L375.27 306.63 L375.96 306.60 L376.66 306.56 L377.38 306.51 L378.12 306.46 L378.93 306.41 L379.80 306.37 L380.75 306.32 L381.82 306.29 L383.00 306.26 L384.30 306.24 L385.70 306.22 L387.18 306.20 L388.74 306.19 L390.37 306.18 L392.06 306.17 L393.81 306.16 L395.59 306.15 L397.41 306.14 L399.26 306.14 L401.13 306.12 L403.00 306.10 L404.97 306.08 L407.09 306.05 L409.32 306.02 L411.63 305.99 L413.97 305.96 L416.31 305.94 L418.61 305.91 L420.81 305.90 L422.90 305.88 L424.82 305.88 L426.53 305.88 L428.00 305.90 L429.20 305.92 L430.17 305.95 L430.95 305.99 L431.56 306.03 L432.04 306.07 L432.44 306.12 L432.78 306.18 L433.11 306.25 L433.46 306.33 L433.87 306.41 L434.37 306.50 L435.00 306.60 L435.73 306.71 L436.49 306.83 L437.29 306.97 L438.11 307.11 L438.95 307.26 L439.81 307.42 L440.68 307.58 L441.56 307.74 L442.43 307.91 L443.30 308.08 L444.16 308.24 L445.00 308.40 L445.83 308.56 L446.67 308.72 L447.50 308.87 L448.33 309.03 L449.17 309.19 L450.00 309.36 L450.83 309.52 L451.67 309.69 L452.50 309.86 L453.33 310.04 L454.17 310.22 L455.00 310.40 L455.84 310.59 L456.70 310.78 L457.56 310.97 L458.43 311.17 L459.29 311.37 L460.16 311.57 L461.01 311.78 L461.85 312.00 L462.68 312.21 L463.48 312.44 L464.25 312.67 L465.00 312.90 L465.74 313.15 L466.48 313.43 L467.23 313.73 L467.96 314.03 L468.68 314.35 L469.38 314.66 L470.03 314.96 L470.65 315.24 L471.21 315.51 L471.71 315.74 L472.15 315.94 L472.50 316.10 L472.50 317.30 L472.15 317.14 L471.71 316.94 L471.21 316.71 L470.65 316.44 L470.03 316.16 L469.38 315.86 L468.68 315.55 L467.96 315.23 L467.23 314.93 L466.48 314.63 L465.74 314.35 L465.00 314.10 L464.25 313.87 L463.48 313.64 L462.68 313.41 L461.85 313.20 L461.01 312.98 L460.16 312.78 L459.29 312.57 L458.43 312.37 L457.56 312.17 L456.70 311.98 L455.84 311.79 L455.00 311.60 L454.17 311.42 L453.33 311.24 L452.50 311.06 L451.67 310.89 L450.83 310.72 L450.00 310.56 L449.17 310.39 L448.33 310.23 L447.50 310.07 L446.67 309.92 L445.83 309.76 L445.00 309.60 L444.16 309.44 L443.30 309.28 L442.43 309.11 L441.56 308.94 L440.68 308.78 L439.81 308.62 L438.95 308.46 L438.11 308.31 L437.29 308.17 L436.49 308.03 L435.73 307.91 L435.00 307.80 L434.37 307.70 L433.87 307.61 L433.46 307.53 L433.11 307.45 L432.78 307.38 L432.44 307.32 L432.04 307.27 L431.56 307.23 L430.95 307.19 L430.17 307.15 L429.20 307.12 L428.00 307.10 L426.53 307.08 L424.82 307.08 L422.90 307.08 L420.81 307.10 L418.61 307.11 L416.31 307.14 L413.97 307.16 L411.63 307.19 L409.32 307.22 L407.09 307.25 L404.97 307.28 L403.00 307.30 L401.13 307.32 L399.26 307.35 L397.41 307.38 L395.59 307.42 L393.81 307.46 L392.06 307.50 L390.37 307.54 L388.74 307.58 L387.18 307.62 L385.70 307.66 L384.30 307.70 L383.00 307.74 L381.82 307.79 L380.75 307.84 L379.80 307.90 L378.93 307.96 L378.12 308.03 L377.38 308.09 L376.66 308.15 L375.96 308.20 L375.27 308.25 L374.55 308.28 L373.80 308.31 L373.00 308.32 L372.17 308.33 L371.33 308.32 L370.50 308.30 L369.67 308.28 L368.83 308.25 L368.00 308.21 L367.17 308.17 L366.33 308.12 L365.50 308.07 L364.67 308.02 L363.83 307.96 L363.00 307.91 L362.17 307.85 L361.33 307.79 L360.50 307.73 L359.67 307.66 L358.83 307.59 L358.00 307.51 L357.17 307.43 L356.33 307.35 L355.50 307.27 L354.67 307.18 L353.83 307.09 L353.00 306.99 L352.17 306.89 L351.33 306.86 L350.50 306.83 L349.67 306.81 L348.83 306.78 L348.00 306.74 L347.17 306.70 L346.33 306.66 L345.50 306.61 L344.67 306.55 L343.83 306.48 L343.00 306.40 L342.15 306.31 L341.28 306.15 L340.38 305.97 L339.48 305.79 L338.58 305.59 L337.69 305.39 L336.81 305.19 L335.96 305.00 L335.15 304.82 L334.38 304.65 L333.66 304.49 L333.00 304.36 L332.42 304.26 L331.94 304.21 L331.52 304.19 L331.15 304.18 L330.82 304.19 L330.50 304.19 L330.18 304.19 L329.85 304.16 L329.48 304.09 L329.06 303.99 L328.58 303.82 L328.00 303.60 L327.34 303.32 L326.61 303.01 L325.82 302.65 L324.98 302.27 L324.11 301.85 L323.22 301.40 L322.31 300.92 L321.41 300.41 L320.51 299.87 L319.64 299.33 L318.80 298.81 L318.00 298.25 L317.22 297.64 L316.43 296.95 L315.64 296.21 L314.85 295.42 L314.07 294.60 L313.31 293.77 L312.58 292.94 L311.87 292.13 L311.20 291.38 L310.58 290.67 L310.01 290.01 L309.50 289.43 L309.06 288.94 L308.70 288.55 L308.40 288.23 L308.16 287.96 L307.95 287.71 L307.76 287.48 L307.59 287.22 L307.42 286.93 L307.24 286.58 L307.03 286.15 L306.79 285.61 L306.50 284.94 L306.16 284.13 L305.78 283.17 L305.38 282.10 L304.95 280.96 L304.52 279.81 L304.08 278.63 L303.64 277.44 L303.21 276.26 L302.81 275.13 L302.44 274.07 L302.10 273.09 L301.80 272.24 L301.55 271.50 L301.33 270.84 L301.15 270.26 L300.99 269.73 L300.85 269.26 L300.73 268.82 L300.61 268.40 L300.50 267.97 L300.39 267.53 L300.27 267.07 L300.14 266.56 L300.00 266.00 L299.84 265.39 L299.68 264.73 L299.50 264.04 L299.33 263.34 L299.15 262.61 L298.98 261.88 L298.81 261.16 L298.65 260.45 L298.49 259.77 L298.35 259.12 L298.22 258.51 L298.10 257.95 L298.00 257.46 L297.92 256.99 L297.84 256.59 L297.78 256.22 L297.73 255.89 L297.68 255.56 L297.64 255.24 L297.60 254.89 L297.55 254.51 L297.51 254.08 L297.46 253.58 L297.40 253.00 L297.34 252.36 L297.27 251.68 L297.21 250.97 L297.14 250.22 L297.08 249.44 L297.01 248.62 L296.95 247.77 L296.88 246.89 L296.81 245.97 L296.74 245.01 L296.67 244.02 L296.60 243.00 L296.53 241.94 L296.45 240.85 L296.38 239.72 L296.30 238.56 L296.23 237.36 L296.15 236.12 L296.07 234.86 L296.00 232.17 L295.92 230.92 L295.85 229.63 L295.77 228.30 L295.70 226.95 L295.63 225.59 L295.57 224.25 L295.50 222.91 L295.44 221.55 L295.38 220.16 L295.32 218.75 L295.26 217.28 L295.19 215.74 L295.13 214.09 L295.06 212.34 L294.98 210.45 L294.90 208.43 L294.81 206.23 L294.72 203.87 L294.61 201.23 L294.50 198.44 L294.39 195.55 L294.28 192.58 L294.17 189.56 L294.06 186.51 L293.96 183.46 L293.86 180.43 L293.78 177.45 L293.70 174.53 L293.64 171.62 L293.59 168.63 L293.54 165.59 L293.51 162.53 L293.48 159.46 L293.46 156.41 L293.43 153.41 L293.40 150.47 L293.36 147.63 L293.32 144.90 L293.27 142.30 L293.20 139.87 L293.12 137.54 L293.01 135.26 L292.90 133.17 L292.78 131.19 L292.65 129.30 L292.52 127.53 L292.39 125.87 L292.27 124.34 L292.15 122.95 L292.05 121.70 L291.97 120.62 L291.90 119.70 L291.80 123.34 L291.73 123.90 L291.64 124.62 L291.54 125.46 L291.42 126.41 L291.30 127.44 L291.17 128.52 L291.03 129.64 L290.89 130.77 L290.75 131.88 L290.61 132.94 L290.48 133.95 L290.36 134.87 L290.24 135.71 L290.13 136.52 L290.02 137.29 L289.91 138.04 L289.81 138.78 L289.70 139.51 L289.59 140.23 L289.47 140.96 L289.36 141.71 L289.23 142.47 L289.11 143.26 L288.97 144.09 L288.83 144.95 L288.68 145.82 L288.54 146.71 L288.38 147.61 L288.23 148.53 L288.07 149.45 L287.91 150.39 L287.74 151.33 L287.56 152.28 L287.39 153.24 L287.21 154.20 L287.02 155.16 L286.83 156.14 L286.62 157.14 L286.42 158.16 L286.20 159.19 L285.98 160.23 L285.76 161.27 L285.53 162.30 L285.31 163.32 L285.09 164.32 L284.87 165.29 L284.65 166.23 L284.44 167.13 L284.23 168.00 L284.02 168.85 L283.81 169.68 L283.61 170.49 L283.40 171.29 L283.20 172.06 L282.99 172.82 L282.79 173.55 L282.60 174.27 L282.40 174.97 L282.21 175.65 L282.03 176.31 L281.86 176.91 L281.72 177.45 L281.59 177.92 L281.47 178.36 L281.35 178.78 L281.23 179.20 L281.10 179.64 L280.95 180.11 L280.78 180.64 L280.59 181.24 L280.35 181.93 L280.08 182.73 L279.76 183.65 L279.40 184.68 L279.01 185.80 L278.59 187.00 L278.15 188.24 L277.69 189.53 L277.22 190.83 L276.75 192.13 L276.27 193.41 L275.80 194.65 L275.34 195.84 L274.90 196.96 L274.47 198.02 L274.03 199.06 L273.59 200.08 L273.15 201.09 L272.71 202.07 L272.27 203.04 L271.83 203.98 L271.40 204.91 L270.97 205.82 L270.54 206.71 L270.12 207.58 L269.71 208.43 L269.31 209.25 L268.91 210.05 L268.52 210.81 L268.14 211.56 L267.76 212.28 L267.38 212.99 L267.00 213.69 L266.62 214.38 L266.24 215.06 L265.86 215.75 L265.47 216.45 L265.07 217.15 L264.67 217.85 L264.26 218.56 L263.85 219.25 L263.44 219.95 L263.03 220.66 L262.61 221.37 L262.19 222.07 L261.77 222.77 L261.35 223.47 L260.93 224.16 L260.50 224.85 L260.07 225.54 L259.64 226.22 L259.20 226.91 L258.76 227.59 L258.32 228.26 L257.88 228.94 L257.43 229.60 L256.98 230.27 L256.54 230.93 L256.09 231.59 L255.65 232.24 L255.20 232.89 L254.76 233.53 L254.32 234.17 L253.87 234.81 L253.42 235.45 L252.97 236.09 L252.53 236.72 L252.08 237.35 L251.64 237.97 L251.20 238.58 L250.76 239.17 L250.33 239.76 L249.91 240.32 L249.50 240.87 L249.10 241.40 L248.71 241.91 L248.33 242.40 L247.96 242.87 L247.60 243.33 L247.23 243.79 L246.87 244.23 L246.51 244.68 L246.14 245.12 L245.77 245.57 L245.39 246.02 L245.00 246.48 L244.60 246.95 L244.20 247.43 L243.79 247.91 L243.37 248.38 L242.95 248.86 L242.53 249.34 L242.11 249.81 L241.69 250.28 L241.26 250.75 L240.84 251.21 L240.42 251.66 L240.00 252.09 L239.58 252.53 L239.17 252.96 L238.75 253.39 L238.33 253.82 L237.92 254.24 L237.50 254.65 L237.08 255.06 L236.67 255.46 L236.25 255.86 L235.83 256.25 L235.42 256.63 L235.00 257.00 L234.58 257.37 L234.17 257.73 L233.75 258.08 L233.33 258.43 L232.92 258.77 L232.50 259.10 L232.08 259.42 L231.67 259.74 L231.25 260.06 L230.83 260.37 L230.42 260.67 L230.00 260.97 L229.58 261.27 L229.17 261.56 L228.75 261.84 L228.33 262.11 L227.92 262.38 L227.50 262.65 L227.08 262.91 L226.67 263.17 L226.25 263.42 L225.83 263.67 L225.42 263.91 L225.00 264.16 L224.58 264.40 L224.17 264.63 L223.75 264.86 L223.33 265.09 L222.92 265.31 L222.50 265.53 L222.08 265.74 L221.67 265.96 L221.25 266.17 L220.83 266.38 L220.42 266.58 L220.00 266.79 L219.58 266.99 L219.17 267.19 L218.75 267.39 L218.33 267.58 L217.92 267.77 L217.50 267.96 L217.08 268.15 L216.67 268.33 L216.25 268.51 L215.83 268.70 L215.42 268.87 L215.00 269.05 L214.60 269.22 L214.22 269.39 L213.87 269.54 L213.52 269.69 L213.17 269.84 L212.81 269.98 L212.44 270.14 L212.04 270.29 L211.60 270.46 L211.12 270.64 L210.59 270.84 L210.00 271.05 L209.34 271.28 L208.62 271.53 L207.85 271.80 L207.04 272.08 L206.19 272.37 L205.31 272.67 L204.42 272.97 L203.52 273.27 L202.62 273.56 L201.72 273.85 L200.85 274.13 L200.00 274.39 L199.17 274.65 L198.33 274.90 L197.50 275.14 L196.67 275.38 L195.83 275.62 L195.00 275.86 L194.17 276.09 L193.33 276.32 L192.50 276.54 L191.67 276.77 L190.83 276.99 L190.00 277.21 L189.17 277.43 L188.33 277.65 L187.50 277.87 L186.67 278.08 L185.83 278.29 L185.00 278.50 L184.17 278.70 L183.33 278.91 L182.50 279.11 L181.67 279.31 L180.83 279.51 L180.00 279.70 L179.17 279.90 L178.33 280.09 L177.50 280.28 L176.67 280.47 L175.83 280.66 L175.00 280.84 L174.17 281.03 L173.33 281.21 L172.50 281.39 L171.67 281.57 L170.83 281.76 L170.00 281.94 L169.17 282.12 L168.33 282.30 L167.50 282.47 L166.67 282.65 L165.83 282.83 L165.00 283.00 L164.17 283.18 L163.33 283.35 L162.50 283.53 L161.67 283.70 L160.83 283.88 L160.00 284.05 L159.17 284.23 L158.33 284.41 L157.50 284.58 L156.67 284.76 L155.83 284.93 L155.00 285.11 L154.17 285.29 L153.33 285.46 L152.50 285.64 L151.67 285.82 L150.83 286.00 L150.00 286.18 L149.17 286.36 L148.33 286.55 L147.50 286.73 L146.67 286.91 L145.83 287.10 L145.00 287.28 L144.17 287.47 L143.33 287.65 L142.50 287.84 L141.67 288.04 L140.83 288.23 L140.00 288.42 L139.20 288.61 L138.45 288.79 L137.73 288.96 L137.04 289.12 L136.34 289.29 L135.62 289.46 L134.88 289.64 L134.07 289.84 L133.20 290.06 L132.25 290.31 L131.18 290.59 L130.00 290.90 L128.65 291.27 L127.13 291.68 L125.47 292.13 L123.70 292.62 L121.87 293.13 L120.00 293.65 L118.13 294.17 L116.30 294.68 L114.53 295.18 L112.87 295.64 L111.35 296.07 L110.00 296.45 L108.86 296.78 L107.93 297.05 L107.15 297.27 L106.48 297.46 L105.88 297.64 L105.31 297.81 L104.72 297.99 L104.07 298.19 L103.32 298.42 L102.42 298.70 L101.33 299.03 L100.00 299.44 L98.44 299.92 L96.70 300.46 L94.80 301.05 L92.78 301.68 L90.65 302.34 L88.44 303.03 L86.18 303.73 L83.89 304.45 L81.60 305.16 L79.34 305.86 L77.13 306.54 L75.00 307.20 L72.92 307.84 L70.83 308.48 L68.75 309.13 L66.67 309.77 L64.58 310.42 L62.50 311.06 L60.42 311.70 L58.33 312.34 L56.25 312.97 L54.17 313.59 L52.08 314.21 L50.00 314.81 L47.84 315.43 L45.54 316.08 L43.16 316.74 L40.74 317.40 L38.32 318.06 L35.94 318.71 L33.64 319.33 L31.48 319.91 L29.49 320.45 L27.72 320.93 L26.21 321.34 L25.00 321.67Z" fill="#b4b4ff" stroke="none"/><path d="M25.00 316.48 L26.21 316.12 L27.72 315.66 L29.49 315.14 L31.48 314.55 L33.64 313.91 L35.94 313.22 L38.32 312.51 L40.74 311.77 L43.16 311.03 L45.54 310.29 L47.84 309.56 L50.00 308.86 L52.08 308.17 L54.17 307.46 L56.25 306.75 L58.33 306.02 L60.42 305.29 L62.50 304.55 L64.58 303.81 L66.67 303.06 L68.75 302.30 L70.83 301.55 L72.92 300.79 L75.00 300.04 L77.13 299.27 L79.34 298.46 L81.60 297.63 L83.89 296.78 L86.18 295.94 L88.44 295.10 L90.65 294.27 L92.78 293.48 L94.80 292.73 L96.70 292.02 L98.44 291.37 L100.00 290.80 L101.33 290.31 L102.42 289.91 L103.32 289.57 L104.07 289.29 L104.72 289.05 L105.31 288.84 L105.88 288.63 L106.48 288.41 L107.15 288.17 L107.93 287.90 L108.86 287.57 L110.00 287.17 L111.35 286.70 L112.87 286.17 L114.53 285.59 L116.30 284.98 L118.13 284.35 L120.00 283.71 L121.87 283.07 L123.70 282.44 L125.47 281.84 L127.13 281.27 L128.65 280.76 L130.00 280.31 L131.18 279.92 L132.25 279.57 L133.20 279.26 L134.07 278.98 L134.88 278.73 L135.62 278.50 L136.34 278.28 L137.04 278.07 L137.73 277.86 L138.45 277.65 L139.20 277.42 L140.00 277.18 L140.83 276.93 L141.67 276.68 L142.50 276.44 L143.33 276.19 L144.17 275.95 L145.00 275.71 L145.83 275.47 L146.67 275.23 L147.50 274.99 L148.33 274.75 L149.17 274.52 L150.00 274.28 L150.83 274.04 L151.67 273.81 L152.50 273.58 L153.33 273.34 L154.17 273.11 L155.00 272.88 L155.83 272.65 L156.67 272.42 L157.50 272.19 L158.33 271.96 L159.17 271.72 L160.00 271.49 L160.83 271.26 L161.67 271.02 L162.50 270.79 L163.33 270.56 L164.17 270.32 L165.00 270.09 L165.83 269.85 L166.67 269.61 L167.50 269.38 L168.33 269.14 L169.17 268.89 L170.00 268.65 L170.83 268.40 L171.67 268.16 L172.50 267.91 L173.33 267.66 L174.17 267.41 L175.00 267.16 L175.83 266.90 L176.67 266.65 L177.50 266.39 L178.33 266.12 L179.17 265.86 L180.00 265.59 L180.83 265.32 L181.67 265.05 L182.50 264.77 L183.33 264.49 L184.17 264.21 L185.00 263.93 L185.83 263.65 L186.67 263.36 L187.50 263.06 L188.33 262.77 L189.17 262.47 L190.00 262.16 L190.83 261.85 L191.67 261.54 L192.50 261.22 L193.33 260.91 L194.17 260.58 L195.00 260.26 L195.83 259.93 L196.67 259.59 L197.50 259.25 L198.33 258.91 L199.17 258.56 L200.00 258.20 L200.85 257.83 L201.72 257.44 L202.62 257.03 L203.52 256.62 L204.42 256.20 L205.31 255.78 L206.19 255.36 L207.04 254.95 L207.85 254.56 L208.62 254.18 L209.34 253.83 L210.00 253.51 L210.59 253.22 L211.12 252.95 L211.60 252.70 L212.04 252.47 L212.44 252.26 L212.81 252.05 L213.17 251.86 L213.52 251.66 L213.87 251.46 L214.22 251.25 L214.60 251.04 L215.00 250.81 L215.42 250.57 L215.83 250.33 L216.25 250.09 L216.67 249.85 L217.08 249.60 L217.50 249.35 L217.92 249.10 L218.33 248.85 L218.75 248.60 L219.17 248.34 L219.58 248.07 L220.00 247.81 L220.42 247.54 L220.83 247.28 L221.25 247.01 L221.67 246.73 L222.08 246.46 L222.50 246.18 L222.92 245.90 L223.33 245.61 L223.75 245.32 L224.17 245.03 L224.58 244.72 L225.00 244.41 L225.42 244.09 L225.83 243.77 L226.25 243.45 L226.67 243.12 L227.08 242.79 L227.50 242.45 L227.92 242.11 L228.33 241.75 L228.75 241.39 L229.17 241.02 L229.58 240.64 L230.00 240.25 L230.42 239.85 L230.83 239.44 L231.25 239.03 L231.67 238.61 L232.08 238.17 L232.50 237.74 L232.92 237.29 L233.33 236.83 L233.75 236.36 L234.17 235.88 L234.58 235.38 L235.00 234.88 L235.42 234.36 L235.83 233.84 L236.25 233.30 L236.67 232.75 L237.08 232.19 L237.50 231.62 L237.92 231.03 L238.33 230.44 L238.75 229.85 L239.17 229.24 L239.58 228.62 L240.00 228.00 L240.42 227.37 L240.83 226.72 L241.25 226.07 L241.67 225.41 L242.08 224.73 L242.50 224.05 L242.92 223.37 L243.33 222.67 L243.75 221.97 L244.17 221.26 L244.58 220.55 L245.00 219.83 L245.42 219.10 L245.84 218.37 L246.26 217.62 L246.68 216.87 L247.10 216.11 L247.52 215.35 L247.94 214.58 L248.36 213.81 L248.77 213.04 L249.19 212.26 L249.59 211.50 L250.00 210.73 L250.40 209.97 L250.79 209.22 L251.18 208.47 L251.57 207.73 L251.95 206.98 L252.34 206.23 L252.72 205.48 L253.10 204.71 L253.49 203.94 L253.88 203.14 L254.28 202.33 L254.68 201.50 L255.09 200.65 L255.50 199.79 L255.92 198.91 L256.34 198.02 L256.76 197.12 L257.19 196.20 L257.61 195.28 L258.04 194.34 L258.47 193.40 L258.90 192.44 L259.32 191.47 L259.75 190.50 L260.18 189.51 L260.61 188.51 L261.04 187.49 L261.47 186.46 L261.90 185.42 L262.33 184.38 L262.77 183.32 L263.19 182.26 L263.62 181.20 L264.04 180.13 L264.46 179.06 L264.87 178.00 L265.28 176.92 L265.69 175.83 L266.10 174.71 L266.52 173.59 L266.92 172.47 L267.33 171.34 L267.72 170.23 L268.11 169.13 L268.49 168.05 L268.85 167.00 L269.21 165.98 L269.54 165.00 L269.85 164.07 L270.15 163.19 L270.43 162.36 L270.69 161.56 L270.94 160.77 L271.19 160.00 L271.43 159.23 L271.67 158.44 L271.91 157.64 L272.16 156.81 L272.43 155.93 L272.70 155.00 L272.99 154.02 L273.29 153.00 L273.59 151.94 L273.90 150.85 L274.21 149.75 L274.53 148.62 L274.84 147.50 L275.15 146.37 L275.46 145.25 L275.75 144.14 L276.04 143.06 L276.32 142.00 L276.59 140.97 L276.84 139.98 L277.09 139.00 L277.33 138.04 L277.57 137.08 L277.80 136.12 L278.03 135.16 L278.26 134.19 L278.49 133.19 L278.73 132.16 L278.96 131.10 L279.21 130.00 L279.46 128.86 L279.72 127.67 L279.98 126.46 L280.24 125.22 L280.51 123.96 L280.77 122.69 L281.04 121.40 L281.30 120.11 L281.56 118.82 L281.81 117.53 L282.06 116.26 L282.30 115.00 L282.53 113.76 L282.76 112.52 L282.98 111.30 L283.20 110.07 L283.42 108.85 L283.63 107.62 L283.84 106.39 L284.05 105.15 L284.26 103.89 L284.46 102.62 L284.67 101.32 L284.88 100.00 L285.09 98.66 L285.30 97.29 L285.51 95.91 L285.72 94.52 L285.92 93.11 L286.13 91.69 L286.33 90.26 L286.54 88.81 L286.74 87.37 L286.94 85.91 L287.14 84.46 L287.33 83.00 L287.52 81.54 L287.71 80.08 L287.90 78.61 L288.08 77.13 L288.27 75.65 L288.45 74.16 L288.63 72.66 L288.81 71.15 L288.98 69.63 L289.16 68.10 L289.34 66.56 L289.51 65.00 L289.69 63.37 L289.88 61.61 L290.07 59.77 L290.26 57.89 L290.45 55.99 L290.64 54.12 L290.82 52.32 L290.99 50.61 L291.15 49.04 L291.29 47.64 L291.40 46.45 L291.50 45.50 L291.60 45.50 L291.63 46.39 L291.66 47.44 L291.70 48.64 L291.74 49.98 L291.79 51.46 L291.84 53.06 L291.89 54.79 L291.95 56.63 L292.01 58.58 L292.07 60.63 L292.13 62.77 L292.20 65.00 L292.27 67.39 L292.35 69.99 L292.43 72.78 L292.52 75.70 L292.61 78.74 L292.71 81.84 L292.80 84.99 L292.89 88.13 L292.98 91.24 L293.06 94.28 L293.13 97.21 L293.20 100.00 L293.26 102.66 L293.31 105.23 L293.35 107.73 L293.38 110.19 L293.41 112.60 L293.44 115.00 L293.47 117.40 L293.51 119.81 L293.54 122.27 L293.59 124.77 L293.64 127.34 L293.70 130.00 L293.77 132.74 L293.85 135.54 L293.93 138.40 L294.01 141.30 L294.11 144.23 L294.20 147.19 L294.30 150.16 L294.40 153.15 L294.50 156.13 L294.60 159.11 L294.70 162.07 L294.80 165.00 L294.90 167.96 L295.00 171.01 L295.10 174.10 L295.20 177.22 L295.30 180.34 L295.41 183.44 L295.51 186.48 L295.62 189.44 L295.74 192.30 L295.85 195.03 L295.97 197.61 L296.10 200.00 L296.23 202.22 L296.38 204.29 L296.53 206.24 L296.68 208.07 L296.84 209.80 L297.00 211.44 L297.16 212.99 L297.32 214.48 L297.47 215.91 L297.62 217.30 L297.77 218.66 L297.90 220.00 L298.02 221.28 L298.14 222.45 L298.24 223.54 L298.34 224.56 L298.44 225.52 L298.54 226.44 L298.63 227.33 L298.73 228.22 L298.84 229.12 L298.95 230.03 L299.07 230.99 L299.20 232.00 L299.34 233.07 L299.50 234.18 L299.66 235.32 L299.82 236.48 L299.99 237.65 L300.17 238.81 L300.35 239.96 L300.52 241.07 L300.70 242.15 L300.87 243.17 L301.04 244.12 L301.20 245.00 L301.35 245.78 L301.49 246.46 L301.62 247.05 L301.75 247.59 L301.88 248.09 L302.01 248.56 L302.14 249.03 L302.28 249.52 L302.44 250.04 L302.60 250.61 L302.79 251.26 L303.00 252.00 L303.23 252.83 L303.47 253.75 L303.73 254.72 L304.00 255.74 L304.29 256.80 L304.58 257.88 L304.88 258.96 L305.20 260.04 L305.51 261.09 L305.84 262.12 L306.17 263.09 L306.50 264.00 L306.84 264.86 L307.19 265.70 L307.54 266.51 L307.91 267.30 L308.28 268.06 L308.66 268.81 L309.04 269.54 L309.43 270.26 L309.82 270.96 L310.21 271.65 L310.60 272.33 L311.00 273.00 L311.40 273.66 L311.81 274.31 L312.23 274.95 L312.65 275.57 L313.07 276.19 L313.50 276.78 L313.93 277.36 L314.35 277.93 L314.77 278.47 L315.19 279.00 L315.60 279.51 L316.00 280.00 L316.38 280.46 L316.74 280.89 L317.09 281.29 L317.43 281.67 L317.76 282.03 L318.09 282.38 L318.44 282.72 L318.80 283.06 L319.18 283.40 L319.58 283.75 L320.02 284.12 L320.50 284.50 L321.03 284.91 L321.61 285.33 L322.22 285.77 L322.87 286.22 L323.54 286.67 L324.22 287.12 L324.90 287.57 L325.57 288.00 L326.23 288.41 L326.86 288.81 L327.45 289.17 L328.00 289.50 L328.49 289.79 L328.92 290.05 L329.31 290.28 L329.67 290.48 L330.01 290.67 L330.34 290.84 L330.69 291.01 L331.06 291.19 L331.46 291.36 L331.91 291.55 L332.42 291.76 L333.00 292.00 L333.66 292.26 L334.38 292.54 L335.15 292.84 L335.96 293.15 L336.81 293.46 L337.69 293.78 L338.58 294.10 L339.48 294.41 L340.38 294.71 L341.28 294.99 L342.15 295.26 L343.00 295.50 L343.83 295.72 L344.67 295.94 L345.50 296.14 L346.33 296.33 L347.17 296.52 L348.00 296.69 L348.83 296.85 L349.67 297.00 L350.50 297.14 L351.33 297.27 L352.17 297.39 L353.00 297.50 L353.83 297.59 L354.67 297.67 L355.50 297.73 L356.33 297.78 L357.17 297.81 L358.00 297.84 L358.83 297.87 L359.67 297.89 L360.50 297.91 L361.33 297.93 L362.17 297.96 L363.00 298.00 L363.83 298.04 L364.67 298.08 L365.50 298.12 L366.33 298.17 L367.17 298.21 L368.00 298.25 L368.83 298.29 L369.67 298.33 L370.50 298.38 L371.33 298.42 L372.17 298.46 L373.00 298.50 L373.80 298.55 L374.55 298.60 L375.27 298.66 L375.96 298.72 L376.66 298.78 L377.38 298.84 L378.12 298.90 L378.93 298.94 L379.80 298.98 L380.75 299.00 L381.82 299.01 L383.00 299.00 L384.33 298.96 L385.81 298.90 L387.41 298.82 L389.11 298.72 L390.88 298.61 L392.69 298.50 L394.51 298.39 L396.33 298.28 L398.12 298.18 L399.84 298.10 L401.48 298.04 L403.00 298.00 L404.45 297.99 L405.88 297.99 L407.29 298.01 L408.67 298.04 L410.01 298.08 L411.31 298.12 L412.57 298.18 L413.78 298.24 L414.93 298.30 L416.02 298.37 L417.05 298.44 L418.00 298.50 L418.85 298.57 L419.59 298.64 L420.24 298.71 L420.81 298.80 L421.33 298.88 L421.81 298.97 L422.28 299.06 L422.74 299.15 L423.23 299.24 L423.75 299.33 L424.34 299.42 L425.00 299.50 L425.73 299.58 L426.49 299.66 L427.29 299.73 L428.11 299.80 L428.95 299.87 L429.81 299.94 L430.68 300.01 L431.56 300.09 L432.43 300.18 L433.30 300.28 L434.16 300.38 L435.00 300.50 L435.83 300.63 L436.67 300.76 L437.50 300.91 L438.33 301.06 L439.17 301.21 L440.00 301.38 L440.83 301.55 L441.67 301.72 L442.50 301.91 L443.33 302.10 L444.17 302.30 L445.00 302.50 L445.83 302.71 L446.67 302.92 L447.50 303.14 L448.33 303.37 L449.17 303.60 L450.00 303.84 L450.83 304.09 L451.67 304.35 L452.50 304.62 L453.33 304.90 L454.17 305.19 L455.00 305.50 L455.84 305.82 L456.70 306.16 L457.56 306.51 L458.43 306.88 L459.29 307.25 L460.16 307.64 L461.01 308.03 L461.85 308.42 L462.68 308.82 L463.48 309.22 L464.25 309.61 L465.00 310.00 L465.74 310.40 L466.48 310.84 L467.23 311.29 L467.96 311.76 L468.68 312.22 L469.38 312.68 L470.03 313.13 L470.65 313.54 L471.21 313.93 L471.71 314.27 L472.15 314.57 L472.50 314.80" fill="none" stroke="#bd4a08" stroke-width="1.12" stroke-linejoin="round"/><path d="M25.00 318.08 L26.21 317.75 L27.72 317.33 L29.49 316.85 L31.48 316.30 L33.64 315.71 L35.94 315.08 L38.32 314.43 L40.74 313.76 L43.16 313.08 L45.54 312.41 L47.84 311.75 L50.00 311.12 L52.08 310.50 L54.17 309.88 L56.25 309.24 L58.33 308.60 L60.42 307.95 L62.50 307.30 L64.58 306.65 L66.67 305.99 L68.75 305.34 L70.83 304.68 L72.92 304.02 L75.00 303.37 L77.13 302.70 L79.34 302.01 L81.60 301.29 L83.89 300.57 L86.18 299.85 L88.44 299.13 L90.65 298.43 L92.78 297.76 L94.80 297.11 L96.70 296.52 L98.44 295.97 L100.00 295.48 L101.33 295.07 L102.42 294.72 L103.32 294.44 L104.07 294.20 L104.72 294.00 L105.31 293.82 L105.88 293.65 L106.48 293.47 L107.15 293.27 L107.93 293.04 L108.86 292.77 L110.00 292.44 L111.35 292.05 L112.87 291.61 L114.53 291.14 L116.30 290.63 L118.13 290.11 L120.00 289.58 L121.87 289.06 L123.70 288.54 L125.47 288.04 L127.13 287.58 L128.65 287.16 L130.00 286.79 L131.18 286.47 L132.25 286.19 L133.20 285.93 L134.07 285.71 L134.88 285.50 L135.62 285.31 L136.34 285.14 L137.04 284.97 L137.73 284.80 L138.45 284.63 L139.20 284.45 L140.00 284.26 L140.83 284.06 L141.67 283.86 L142.50 283.67 L143.33 283.47 L144.17 283.28 L145.00 283.09 L145.83 282.90 L146.67 282.72 L147.50 282.53 L148.33 282.34 L149.17 282.16 L150.00 281.97 L150.83 281.78 L151.67 281.60 L152.50 281.42 L153.33 281.24 L154.17 281.06 L155.00 280.88 L155.83 280.70 L156.67 280.52 L157.50 280.34 L158.33 280.16 L159.17 279.98 L160.00 279.80 L160.83 279.62 L161.67 279.44 L162.50 279.26 L163.33 279.08 L164.17 278.91 L165.00 278.73 L165.83 278.55 L166.67 278.37 L167.50 278.19 L168.33 278.01 L169.17 277.82 L170.00 277.64 L170.83 277.46 L171.67 277.27 L172.50 277.08 L173.33 276.90 L174.17 276.71 L175.00 276.52 L175.83 276.33 L176.67 276.14 L177.50 275.95 L178.33 275.76 L179.17 275.56 L180.00 275.36 L180.83 275.16 L181.67 274.96 L182.50 274.75 L183.33 274.55 L184.17 274.34 L185.00 274.13 L185.83 273.92 L186.67 273.70 L187.50 273.49 L188.33 273.27 L189.17 273.05 L190.00 272.82 L190.83 272.59 L191.67 272.36 L192.50 272.13 L193.33 271.90 L194.17 271.66 L195.00 271.42 L195.83 271.17 L196.67 270.93 L197.50 270.68 L198.33 270.42 L199.17 270.16 L200.00 269.90 L200.85 269.63 L201.72 269.34 L202.62 269.04 L203.52 268.73 L204.42 268.42 L205.31 268.11 L206.19 267.80 L207.04 267.50 L207.85 267.21 L208.62 266.93 L209.34 266.67 L210.00 266.43 L210.59 266.21 L211.12 266.01 L211.60 265.82 L212.04 265.65 L212.44 265.48 L212.81 265.33 L213.17 265.17 L213.52 265.02 L213.87 264.86 L214.22 264.71 L214.60 264.54 L215.00 264.36 L215.42 264.18 L215.83 263.99 L216.25 263.80 L216.67 263.61 L217.08 263.42 L217.50 263.23 L217.92 263.03 L218.33 262.83 L218.75 262.63 L219.17 262.43 L219.58 262.22 L220.00 262.01 L220.42 261.80 L220.83 261.58 L221.25 261.37 L221.67 261.15 L222.08 260.93 L222.50 260.70 L222.92 260.48 L223.33 260.25 L223.75 260.01 L224.17 259.77 L224.58 259.53 L225.00 259.28 L225.42 259.03 L225.83 258.77 L226.25 258.51 L226.67 258.25 L227.08 257.99 L227.50 257.72 L227.92 257.44 L228.33 257.16 L228.75 256.88 L229.17 256.58 L229.58 256.29 L230.00 255.98 L230.42 255.67 L230.83 255.35 L231.25 255.03 L231.67 254.70 L232.08 254.37 L232.50 254.03 L232.92 253.69 L233.33 253.34 L233.75 252.98 L234.17 252.61 L234.58 252.24 L235.00 251.86 L235.42 251.47 L235.83 251.08 L236.25 250.67 L236.67 250.26 L237.08 249.84 L237.50 249.42 L237.92 248.99 L238.33 248.55 L238.75 248.11 L239.17 247.66 L239.58 247.21 L240.00 246.75 L240.42 246.28 L240.84 245.80 L241.26 245.32 L241.69 244.82 L242.11 244.32 L242.53 243.82 L242.95 243.31 L243.37 242.80 L243.79 242.29 L244.20 241.78 L244.60 241.28 L245.00 240.78 L245.39 240.29 L245.77 239.81 L246.14 239.33 L246.51 238.86 L246.87 238.39 L247.23 237.91 L247.60 237.43 L247.96 236.94 L248.33 236.43 L248.71 235.91 L249.10 235.37 L249.50 234.81 L249.91 234.23 L250.33 233.62 L250.76 233.00 L251.20 232.37 L251.64 231.72 L252.08 231.06 L252.53 230.40 L252.97 229.72 L253.42 229.04 L253.87 228.36 L254.32 227.68 L254.76 227.00 L255.20 226.32 L255.65 225.63 L256.09 224.94 L256.54 224.24 L256.98 223.53 L257.43 222.82 L257.88 222.11 L258.32 221.40 L258.76 220.68 L259.20 219.95 L259.64 219.23 L260.07 218.50 L260.50 217.77 L260.93 217.03 L261.35 216.30 L261.77 215.56 L262.19 214.81 L262.61 214.06 L263.03 213.31 L263.44 212.56 L263.85 211.80 L264.26 211.03 L264.67 210.27 L265.07 209.50 L265.47 208.74 L265.86 207.98 L266.24 207.23 L266.62 206.48 L267.00 205.73 L267.38 204.97 L267.76 204.20 L268.14 203.41 L268.52 202.60 L268.91 201.76 L269.31 200.90 L269.71 200.00 L270.12 199.07 L270.54 198.12 L270.97 197.16 L271.40 196.17 L271.83 195.16 L272.27 194.12 L272.71 193.07 L273.15 192.00 L273.59 190.91 L274.03 189.79 L274.47 188.66 L274.90 187.50 L275.34 186.29 L275.80 184.99 L276.27 183.64 L276.75 182.24 L277.22 180.82 L277.69 179.41 L278.15 178.01 L278.59 176.65 L279.01 175.35 L279.40 174.13 L279.76 173.00 L280.08 172.00 L280.35 171.13 L280.59 170.38 L280.78 169.72 L280.95 169.15 L281.10 168.63 L281.23 168.16 L281.35 167.70 L281.47 167.24 L281.59 166.76 L281.72 166.24 L281.86 165.66 L282.03 165.00 L282.21 164.28 L282.40 163.54 L282.60 162.78 L282.79 162.00 L282.99 161.20 L283.20 160.38 L283.40 159.53 L283.61 158.67 L283.81 157.78 L284.02 156.88 L284.23 155.95 L284.44 155.00 L284.65 154.02 L284.87 153.00 L285.09 151.94 L285.31 150.85 L285.53 149.75 L285.76 148.62 L285.98 147.50 L286.20 146.37 L286.42 145.25 L286.62 144.14 L286.83 143.06 L287.02 142.00 L287.21 140.96 L287.39 139.92 L287.56 138.88 L287.74 137.85 L287.91 136.83 L288.07 135.81 L288.23 134.81 L288.38 133.81 L288.54 132.84 L288.68 131.87 L288.83 130.93 L288.97 130.00 L289.11 129.10 L289.23 128.25 L289.36 127.42 L289.47 126.61 L289.59 125.82 L289.70 125.03 L289.81 124.24 L289.91 123.44 L290.02 122.63 L290.13 121.79 L290.24 120.91 L290.36 120.00 L290.48 119.01 L290.61 117.92 L290.75 116.76 L290.89 115.56 L291.03 114.34 L291.17 113.12 L291.30 111.95 L291.42 110.83 L291.54 109.80 L291.64 108.89 L291.73 108.11 L291.80 107.50 L291.90 107.50 L291.97 108.55 L292.05 109.80 L292.15 111.25 L292.27 112.87 L292.39 114.65 L292.52 116.56 L292.65 118.60 L292.78 120.74 L292.90 122.97 L293.01 125.27 L293.12 127.62 L293.20 130.00 L293.27 132.48 L293.32 135.11 L293.36 137.87 L293.40 140.74 L293.43 143.70 L293.46 146.72 L293.48 149.78 L293.51 152.87 L293.54 155.96 L293.59 159.02 L293.64 162.04 L293.70 165.00 L293.78 167.96 L293.86 171.01 L293.96 174.10 L294.06 177.22 L294.17 180.34 L294.28 183.44 L294.39 186.48 L294.50 189.44 L294.61 192.30 L294.72 195.03 L294.81 197.61 L294.90 200.00 L294.98 202.21 L295.06 204.26 L295.13 206.17 L295.19 207.96 L295.26 209.65 L295.32 211.25 L295.38 212.78 L295.44 214.26 L295.50 215.70 L295.57 217.13 L295.63 218.56 L295.70 220.00 L295.77 221.44 L295.85 222.85 L295.92 224.22 L296.00 225.56 L296.07 226.86 L296.15 228.12 L296.23 229.36 L296.30 230.56 L296.38 231.72 L296.45 232.85 L296.53 233.94 L296.60 235.00 L296.67 236.02 L296.74 237.01 L296.81 237.97 L296.88 238.89 L296.95 239.77 L297.01 240.62 L297.08 241.44 L297.14 242.22 L297.21 242.97 L297.27 243.68 L297.34 244.36 L297.40 245.00 L297.46 245.58 L297.51 246.08 L297.55 246.51 L297.60 246.89 L297.64 247.24 L297.68 247.56 L297.73 247.89 L297.78 248.22 L297.84 248.59 L297.92 248.99 L298.00 249.46 L298.10 250.00 L298.22 250.62 L298.35 251.29 L298.49 252.02 L298.65 252.78 L298.81 253.57 L298.98 254.38 L299.15 255.19 L299.33 256.00 L299.50 256.80 L299.68 257.57 L299.84 258.31 L300.00 259.00 L300.14 259.63 L300.27 260.20 L300.39 260.73 L300.50 261.22 L300.61 261.70 L300.73 262.19 L300.85 262.69 L300.99 263.22 L301.15 263.80 L301.33 264.45 L301.55 265.18 L301.80 266.00 L302.10 266.95 L302.44 268.03 L302.81 269.22 L303.21 270.48 L303.64 271.79 L304.08 273.12 L304.52 274.45 L304.95 275.74 L305.38 276.97 L305.78 278.11 L306.16 279.13 L306.50 280.00 L306.79 280.72 L307.03 281.30 L307.24 281.77 L307.42 282.15 L307.59 282.47 L307.76 282.75 L307.95 283.02 L308.16 283.30 L308.40 283.61 L308.70 283.98 L309.06 284.44 L309.50 285.00 L310.01 285.67 L310.58 286.42 L311.20 287.24 L311.87 288.11 L312.58 289.01 L313.31 289.94 L314.07 290.86 L314.85 291.78 L315.64 292.66 L316.43 293.51 L317.22 294.29 L318.00 295.00 L318.80 295.66 L319.64 296.29 L320.51 296.90 L321.41 297.48 L322.31 298.04 L323.22 298.56 L324.11 299.06 L324.98 299.52 L325.82 299.95 L326.61 300.34 L327.34 300.69 L328.00 301.00 L328.58 301.25 L329.06 301.44 L329.48 301.57 L329.85 301.65 L330.18 301.70 L330.50 301.72 L330.82 301.73 L331.15 301.74 L331.52 301.76 L331.94 301.80 L332.42 301.88 L333.00 302.00 L333.66 302.16 L334.38 302.34 L335.15 302.54 L335.96 302.76 L336.81 302.99 L337.69 303.22 L338.58 303.45 L339.48 303.69 L340.38 303.91 L341.28 304.12 L342.15 304.32 L343.00 304.50 L343.83 304.66 L344.67 304.81 L345.50 304.96 L346.33 305.09 L347.17 305.22 L348.00 305.34 L348.83 305.46 L349.67 305.57 L350.50 305.68 L351.33 305.79 L352.17 305.90 L353.00 306.00 L353.83 306.10 L354.67 306.20 L355.50 306.30 L356.33 306.39 L357.17 306.48 L358.00 306.56 L358.83 306.64 L359.67 306.72 L360.50 306.80 L361.33 306.87 L362.17 306.94 L363.00 307.00 L363.83 307.06 L364.67 307.12 L365.50 307.18 L366.33 307.24 L367.17 307.29 L368.00 307.34 L368.83 307.39 L369.67 307.43 L370.50 307.46 L371.33 307.48 L372.17 307.49 L373.00 307.50 L373.80 307.49 L374.55 307.47 L375.27 307.44 L375.96 307.40 L376.66 307.35 L377.38 307.30 L378.12 307.24 L378.93 307.19 L379.80 307.13 L380.75 307.08 L381.82 307.04 L383.00 307.00 L384.30 306.97 L385.70 306.94 L387.18 306.91 L388.74 306.88 L390.37 306.86 L392.06 306.83 L393.81 306.81 L395.59 306.79 L397.41 306.76 L399.26 306.74 L401.13 306.72 L403.00 306.70 L404.97 306.68 L407.09 306.65 L409.32 306.62 L411.63 306.59 L413.97 306.56 L416.31 306.54 L418.61 306.51 L420.81 306.50 L422.90 306.48 L424.82 306.48 L426.53 306.48 L428.00 306.50 L429.20 306.52 L430.17 306.55 L430.95 306.59 L431.56 306.63 L432.04 306.67 L432.44 306.72 L432.78 306.78 L433.11 306.85 L433.46 306.93 L433.87 307.01 L434.37 307.10 L435.00 307.20 L435.73 307.31 L436.49 307.43 L437.29 307.57 L438.11 307.71 L438.95 307.86 L439.81 308.02 L440.68 308.18 L441.56 308.34 L442.43 308.51 L443.30 308.68 L444.16 308.84 L445.00 309.00 L445.83 309.16 L446.67 309.32 L447.50 309.47 L448.33 309.63 L449.17 309.79 L450.00 309.96 L450.83 310.12 L451.67 310.29 L452.50 310.46 L453.33 310.64 L454.17 310.82 L455.00 311.00 L455.84 311.19 L456.70 311.38 L457.56 311.57 L458.43 311.77 L459.29 311.97 L460.16 312.18 L461.01 312.38 L461.85 312.60 L462.68 312.81 L463.48 313.04 L464.25 313.27 L465.00 313.50 L465.74 313.75 L466.48 314.03 L467.23 314.33 L467.96 314.63 L468.68 314.95 L469.38 315.26 L470.03 315.56 L470.65 315.84 L471.21 316.11 L471.71 316.34 L472.15 316.54 L472.50 316.70" fill="none" stroke="#0c0c98" stroke-width="1.12" stroke-linejoin="round"/></g><rect x="297.50" y="256.30" width="4.00" height="5.00" fill="#fff" stroke="#000" stroke-width="0.80"/><rect x="305.00" y="264.30" width="4.00" height="5.00" fill="#fff" stroke="#000" stroke-width="0.80"/><rect x="316.30" y="270.00" width="4.00" height="5.00" fill="#fff" stroke="#000" stroke-width="0.80"/><rect x="323.70" y="277.30" width="4.00" height="5.00" fill="#fff" stroke="#000" stroke-width="0.80"/><rect x="338.80" y="286.30" width="4.00" height="5.00" fill="#fff" stroke="#000" stroke-width="0.80"/><rect x="346.30" y="291.50" width="4.00" height="5.00" fill="#fff" stroke="#000" stroke-width="0.80"/><rect x="353.80" y="294.70" width="4.00" height="5.00" fill="#fff" stroke="#000" stroke-width="0.80"/><path d="M363.30 292.00V298.00M361.10 292.00H365.50M361.10 298.00H365.50" stroke="#000" stroke-width="0.7" fill="none"/><rect x="361.30" y="292.50" width="4.00" height="5.00" fill="#fff" stroke="#000" stroke-width="0.80"/><path d="M374.50 296.30V302.30M372.30 296.30H376.70M372.30 302.30H376.70" stroke="#000" stroke-width="0.7" fill="none"/><rect x="372.50" y="296.80" width="4.00" height="5.00" fill="#fff" stroke="#000" stroke-width="0.80"/><rect x="380.20" y="299.00" width="4.00" height="5.00" fill="#fff" stroke="#000" stroke-width="0.80"/><path d="M393.50 295.50V302.50M391.30 295.50H395.70M391.30 302.50H395.70" stroke="#000" stroke-width="0.7" fill="none"/><rect x="391.50" y="296.50" width="4.00" height="5.00" fill="#fff" stroke="#000" stroke-width="0.80"/><path d="M404.50 295.40V304.00M402.30 295.40H406.70M402.30 304.00H406.70" stroke="#000" stroke-width="0.7" fill="none"/><rect x="402.50" y="297.20" width="4.00" height="5.00" fill="#fff" stroke="#000" stroke-width="0.80"/><path d="M412.20 296.40V304.20M410.00 296.40H414.40M410.00 304.20H414.40" stroke="#000" stroke-width="0.7" fill="none"/><rect x="410.20" y="297.80" width="4.00" height="5.00" fill="#fff" stroke="#000" stroke-width="0.80"/><path d="M423.50 298.20V305.80M421.30 298.20H425.70M421.30 305.80H425.70" stroke="#000" stroke-width="0.7" fill="none"/><rect x="421.50" y="299.50" width="4.00" height="5.00" fill="#fff" stroke="#000" stroke-width="0.80"/><path d="M431.20 298.40V306.00M429.00 298.40H433.40M429.00 306.00H433.40" stroke="#000" stroke-width="0.7" fill="none"/><rect x="429.20" y="299.70" width="4.00" height="5.00" fill="#fff" stroke="#000" stroke-width="0.80"/><path d="M442.50 303.30V311.10M440.30 303.30H444.70M440.30 311.10H444.70" stroke="#000" stroke-width="0.7" fill="none"/><rect x="440.50" y="304.70" width="4.00" height="5.00" fill="#fff" stroke="#000" stroke-width="0.80"/><rect x="448.00" y="305.30" width="4.00" height="5.00" fill="#fff" stroke="#000" stroke-width="0.80"/><path d="M457.50 302.30V309.30M455.30 302.30H459.70M455.30 309.30H459.70" stroke="#000" stroke-width="0.7" fill="none"/><rect x="455.50" y="303.30" width="4.00" height="5.00" fill="#fff" stroke="#000" stroke-width="0.80"/><path d="M468.70 308.50V314.50M466.50 308.50H470.90M466.50 314.50H470.90" stroke="#000" stroke-width="0.7" fill="none"/><rect x="466.70" y="309.00" width="4.00" height="5.00" fill="#fff" stroke="#000" stroke-width="0.80"/><path d="M299.60 273.40V279.80M297.40 273.40H301.80M297.40 279.80H301.80" stroke="#000" stroke-width="0.7" fill="none"/><ellipse cx="299.60" cy="276.60" rx="2.10" ry="2.30" fill="#fff" stroke="#000" stroke-width="0.80"/><path d="M313.00 286.30V291.30M310.80 286.30H315.20M310.80 291.30H315.20" stroke="#000" stroke-width="0.7" fill="none"/><ellipse cx="313.00" cy="288.80" rx="2.10" ry="2.30" fill="#fff" stroke="#000" stroke-width="0.80"/><ellipse cx="322.70" cy="289.30" rx="2.10" ry="2.30" fill="#fff" stroke="#000" stroke-width="0.80"/><path d="M332.50 296.00V300.00M330.30 296.00H334.70M330.30 300.00H334.70" stroke="#000" stroke-width="0.7" fill="none"/><ellipse cx="332.50" cy="298.00" rx="2.10" ry="2.30" fill="#fff" stroke="#000" stroke-width="0.80"/><path d="M341.50 296.50V302.50M339.30 296.50H343.70M339.30 302.50H343.70" stroke="#000" stroke-width="0.7" fill="none"/><ellipse cx="341.50" cy="299.50" rx="2.10" ry="2.30" fill="#fff" stroke="#000" stroke-width="0.80"/><path d="M350.80 299.80V303.80M348.60 299.80H353.00M348.60 303.80H353.00" stroke="#000" stroke-width="0.7" fill="none"/><ellipse cx="350.80" cy="301.80" rx="2.10" ry="2.30" fill="#fff" stroke="#000" stroke-width="0.80"/><path d="M360.50 304.50V308.50M358.30 304.50H362.70M358.30 308.50H362.70" stroke="#000" stroke-width="0.7" fill="none"/><ellipse cx="360.50" cy="306.50" rx="2.10" ry="2.30" fill="#fff" stroke="#000" stroke-width="0.80"/><ellipse cx="369.50" cy="308.50" rx="2.10" ry="2.30" fill="#fff" stroke="#000" stroke-width="0.80"/><ellipse cx="379.20" cy="309.80" rx="2.10" ry="2.30" fill="#fff" stroke="#000" stroke-width="0.80"/><ellipse cx="388.00" cy="306.80" rx="2.10" ry="2.30" fill="#fff" stroke="#000" stroke-width="0.80"/><ellipse cx="398.00" cy="305.80" rx="2.10" ry="2.30" fill="#fff" stroke="#000" stroke-width="0.80"/><ellipse cx="407.30" cy="306.50" rx="2.10" ry="2.30" fill="#fff" stroke="#000" stroke-width="0.80"/><ellipse cx="416.50" cy="309.80" rx="2.10" ry="2.30" fill="#fff" stroke="#000" stroke-width="0.80"/><ellipse cx="425.80" cy="306.80" rx="2.10" ry="2.30" fill="#fff" stroke="#000" stroke-width="0.80"/><ellipse cx="435.30" cy="311.20" rx="2.10" ry="2.30" fill="#fff" stroke="#000" stroke-width="0.80"/><ellipse cx="445.00" cy="312.20" rx="2.10" ry="2.30" fill="#fff" stroke="#000" stroke-width="0.80"/><ellipse cx="454.00" cy="309.50" rx="2.10" ry="2.30" fill="#fff" stroke="#000" stroke-width="0.80"/><ellipse cx="463.50" cy="317.00" rx="2.10" ry="2.30" fill="#fff" stroke="#000" stroke-width="0.80"/><path d="M295.60 268.75V278.25M293.40 268.75H297.80M293.40 278.25H297.80" stroke="#000" stroke-width="0.7" fill="none"/><ellipse cx="295.60" cy="273.50" rx="2.40" ry="2.45" fill="#000"/><path d="M303.20 270.55V282.25M301.00 270.55H305.40M301.00 282.25H305.40" stroke="#000" stroke-width="0.7" fill="none"/><ellipse cx="303.20" cy="276.40" rx="2.40" ry="2.45" fill="#000"/><path d="M314.50 282.20V290.80M312.30 282.20H316.70M312.30 290.80H316.70" stroke="#000" stroke-width="0.7" fill="none"/><ellipse cx="314.50" cy="286.50" rx="2.40" ry="2.45" fill="#000"/><path d="M322.00 291.10V298.50M319.80 291.10H324.20M319.80 298.50H324.20" stroke="#000" stroke-width="0.7" fill="none"/><ellipse cx="322.00" cy="294.80" rx="2.40" ry="2.45" fill="#000"/><path d="M329.50 294.80V302.20M327.30 294.80H331.70M327.30 302.20H331.70" stroke="#000" stroke-width="0.7" fill="none"/><ellipse cx="329.50" cy="298.50" rx="2.40" ry="2.45" fill="#000"/><path d="M341.00 299.60V305.60M338.80 299.60H343.20M338.80 305.60H343.20" stroke="#000" stroke-width="0.7" fill="none"/><ellipse cx="341.00" cy="302.60" rx="2.40" ry="2.45" fill="#000"/><path d="M348.30 302.20V307.40M346.10 302.20H350.50M346.10 307.40H350.50" stroke="#000" stroke-width="0.7" fill="none"/><ellipse cx="348.30" cy="304.80" rx="2.40" ry="2.45" fill="#000"/><path d="M359.80 302.60V307.60M357.60 302.60H362.00M357.60 307.60H362.00" stroke="#000" stroke-width="0.7" fill="none"/><ellipse cx="359.80" cy="305.10" rx="2.40" ry="2.45" fill="#000"/><path d="M367.20 303.60V307.60M365.00 303.60H369.40M365.00 307.60H369.40" stroke="#000" stroke-width="0.7" fill="none"/><ellipse cx="367.20" cy="305.60" rx="2.40" ry="2.45" fill="#000"/><path d="M374.80 306.30V310.30M372.60 306.30H377.00M372.60 310.30H377.00" stroke="#000" stroke-width="0.7" fill="none"/><ellipse cx="374.80" cy="308.30" rx="2.40" ry="2.45" fill="#000"/><path d="M386.20 306.30V310.30M384.00 306.30H388.40M384.00 310.30H388.40" stroke="#000" stroke-width="0.7" fill="none"/><ellipse cx="386.20" cy="308.30" rx="2.40" ry="2.45" fill="#000"/><path d="M393.50 305.10V309.10M391.30 305.10H395.70M391.30 309.10H395.70" stroke="#000" stroke-width="0.7" fill="none"/><ellipse cx="393.50" cy="307.10" rx="2.40" ry="2.45" fill="#000"/><path d="M404.70 304.10V308.10M402.50 304.10H406.90M402.50 308.10H406.90" stroke="#000" stroke-width="0.7" fill="none"/><ellipse cx="404.70" cy="306.10" rx="2.40" ry="2.45" fill="#000"/><path d="M416.00 304.10V308.10M413.80 304.10H418.20M413.80 308.10H418.20" stroke="#000" stroke-width="0.7" fill="none"/><ellipse cx="416.00" cy="306.10" rx="2.40" ry="2.45" fill="#000"/><path d="M423.50 307.80V311.80M421.30 307.80H425.70M421.30 311.80H425.70" stroke="#000" stroke-width="0.7" fill="none"/><ellipse cx="423.50" cy="309.80" rx="2.40" ry="2.45" fill="#000"/><path d="M431.00 306.60V310.60M428.80 306.60H433.20M428.80 310.60H433.20" stroke="#000" stroke-width="0.7" fill="none"/><ellipse cx="431.00" cy="308.60" rx="2.40" ry="2.45" fill="#000"/><path d="M442.20 307.70V311.70M440.00 307.70H444.40M440.00 311.70H444.40" stroke="#000" stroke-width="0.7" fill="none"/><ellipse cx="442.20" cy="309.70" rx="2.40" ry="2.45" fill="#000"/><path d="M453.80 309.70V313.70M451.60 309.70H456.00M451.60 313.70H456.00" stroke="#000" stroke-width="0.7" fill="none"/><ellipse cx="453.80" cy="311.70" rx="2.40" ry="2.45" fill="#000"/><path d="M461.00 310.00V314.00M458.80 310.00H463.20M458.80 314.00H463.20" stroke="#000" stroke-width="0.7" fill="none"/><ellipse cx="461.00" cy="312.00" rx="2.40" ry="2.45" fill="#000"/><path d="M468.70 311.00V315.00M466.50 311.00H470.90M466.50 315.00H470.90" stroke="#000" stroke-width="0.7" fill="none"/><ellipse cx="468.70" cy="313.00" rx="2.40" ry="2.45" fill="#000"/><line x1="294.2" y1="332.75" x2="294.2" y2="15.5" stroke="#ff0000" stroke-width="1.65" stroke-dasharray="6 7.905"/><line x1="413" y1="27.5" x2="454" y2="27.5" stroke="#cb6a36" stroke-width="1"/><line x1="413" y1="42.5" x2="454" y2="42.5" stroke="#3e3ea8" stroke-width="1"/><path d="M413.3 57.75H454.3" stroke="#000" stroke-width="0.60" fill="none"/><path d="M413.3 55.45V60.05M454.3 55.45V60.05" stroke="#000" stroke-width="0.50" fill="none"/><rect x="431.50" y="55.45" width="4.00" height="5.00" fill="#fff" stroke="#000" stroke-width="0.65"/><path d="M413.3 73.50H454.3" stroke="#000" stroke-width="0.55" fill="none"/><path d="M413.3 71.20V75.80M454.3 71.20V75.80" stroke="#000" stroke-width="0.50" fill="none"/><ellipse cx="433.50" cy="73.30" rx="2.10" ry="2.30" fill="#fff" stroke="#000" stroke-width="0.65"/><path d="M413.3 88.50H454.3" stroke="#000" stroke-width="0.75" fill="none"/><path d="M413.3 86.20V90.80M454.3 86.20V90.80" stroke="#000" stroke-width="0.55" fill="none"/><ellipse cx="433.50" cy="88.40" rx="2.40" ry="2.45" fill="#000"/><rect x="25.00" y="15.50" width="447.50" height="317.00" stroke="#000" stroke-width="0.72" fill="none"/><path d="M70.25 15.50v4.50M70.25 332.50v-4.50M145.50 15.50v4.50M145.50 332.50v-4.50M220.50 15.50v4.50M220.50 332.50v-4.50M295.55 15.50v4.50M295.55 332.50v-4.50M370.80 15.50v4.50M370.80 332.50v-4.50M446.20 15.50v4.50M446.20 332.50v-4.50M25.00 15.45h4.50M472.50 15.45h-4.50M25.00 50.68h4.50M472.50 50.68h-4.50M25.00 85.91h4.50M472.50 85.91h-4.50M25.00 121.14h4.50M472.50 121.14h-4.50M25.00 156.37h4.50M472.50 156.37h-4.50M25.00 191.60h4.50M472.50 191.60h-4.50M25.00 226.83h4.50M472.50 226.83h-4.50M25.00 262.06h4.50M472.50 262.06h-4.50M25.00 297.29h4.50M472.50 297.29h-4.50M25.00 332.52h4.50M472.50 332.52h-4.50" stroke="#000" stroke-width="0.72" fill="none"/></svg></body></html>
